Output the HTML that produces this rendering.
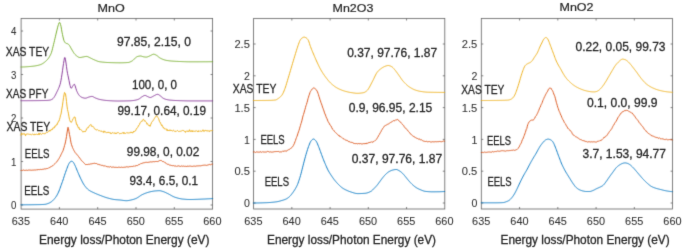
<!DOCTYPE html>
<html><head><meta charset="utf-8"><title>XAS/EELS</title>
<style>
html,body{margin:0;padding:0;background:#fff;}
body{width:685px;height:248px;overflow:hidden;}
svg{display:block;font-family:"Liberation Sans",sans-serif;}
</style></head><body>
<svg width="685" height="248" viewBox="0 0 685 248">
<defs><filter id="tf" x="0" y="0" width="685" height="248" filterUnits="userSpaceOnUse" color-interpolation-filters="sRGB"><feConvolveMatrix order="3" kernelMatrix="0.0100 0.0800 0.0100 0.0800 0.6400 0.0800 0.0100 0.0800 0.0100" edgeMode="none" preserveAlpha="false"/></filter><filter id="cf" x="0" y="0" width="685" height="248" filterUnits="userSpaceOnUse" color-interpolation-filters="sRGB"><feConvolveMatrix order="3" kernelMatrix="0.0169 0.0962 0.0169 0.0962 0.5476 0.0962 0.0169 0.0962 0.0169" edgeMode="none" preserveAlpha="false"/></filter></defs>
<rect width="685" height="248" fill="#fff"/>
<g filter="url(#cf)">
<rect x="21.1" y="18.5" width="191.5" height="190.6" fill="#fff" stroke="#606060" stroke-width="0.8"/>
<path d="M21.1 205.0h2.0M212.6 205.0h-2.0" stroke="#606060" stroke-width="0.8"/>
<path d="M21.1 161.5h2.0M212.6 161.5h-2.0" stroke="#606060" stroke-width="0.8"/>
<path d="M21.1 118.0h2.0M212.6 118.0h-2.0" stroke="#606060" stroke-width="0.8"/>
<path d="M21.1 74.5h2.0M212.6 74.5h-2.0" stroke="#606060" stroke-width="0.8"/>
<path d="M21.1 31.0h2.0M212.6 31.0h-2.0" stroke="#606060" stroke-width="0.8"/>
<path d="M59.4 209.1v-2.0M59.4 18.5v2.0" stroke="#606060" stroke-width="0.8"/>
<path d="M97.69999999999999 209.1v-2.0M97.69999999999999 18.5v2.0" stroke="#606060" stroke-width="0.8"/>
<path d="M136.0 209.1v-2.0M136.0 18.5v2.0" stroke="#606060" stroke-width="0.8"/>
<path d="M174.29999999999998 209.1v-2.0M174.29999999999998 18.5v2.0" stroke="#606060" stroke-width="0.8"/>
<rect x="253.6" y="18.5" width="191.20000000000002" height="190.5" fill="#fff" stroke="#606060" stroke-width="0.8"/>
<path d="M253.6 203.0h2.0M444.8 203.0h-2.0" stroke="#606060" stroke-width="0.8"/>
<path d="M253.6 171.2h2.0M444.8 171.2h-2.0" stroke="#606060" stroke-width="0.8"/>
<path d="M253.6 139.4h2.0M444.8 139.4h-2.0" stroke="#606060" stroke-width="0.8"/>
<path d="M253.6 107.6h2.0M444.8 107.6h-2.0" stroke="#606060" stroke-width="0.8"/>
<path d="M253.6 75.8h2.0M444.8 75.8h-2.0" stroke="#606060" stroke-width="0.8"/>
<path d="M253.6 44.0h2.0M444.8 44.0h-2.0" stroke="#606060" stroke-width="0.8"/>
<path d="M291.84 209.0v-2.0M291.84 18.5v2.0" stroke="#606060" stroke-width="0.8"/>
<path d="M330.08 209.0v-2.0M330.08 18.5v2.0" stroke="#606060" stroke-width="0.8"/>
<path d="M368.32 209.0v-2.0M368.32 18.5v2.0" stroke="#606060" stroke-width="0.8"/>
<path d="M406.56 209.0v-2.0M406.56 18.5v2.0" stroke="#606060" stroke-width="0.8"/>
<rect x="481.3" y="18.5" width="191.3" height="190.5" fill="#fff" stroke="#606060" stroke-width="0.8"/>
<path d="M481.3 203.0h2.0M672.6 203.0h-2.0" stroke="#606060" stroke-width="0.8"/>
<path d="M481.3 171.2h2.0M672.6 171.2h-2.0" stroke="#606060" stroke-width="0.8"/>
<path d="M481.3 139.4h2.0M672.6 139.4h-2.0" stroke="#606060" stroke-width="0.8"/>
<path d="M481.3 107.6h2.0M672.6 107.6h-2.0" stroke="#606060" stroke-width="0.8"/>
<path d="M481.3 75.8h2.0M672.6 75.8h-2.0" stroke="#606060" stroke-width="0.8"/>
<path d="M481.3 44.0h2.0M672.6 44.0h-2.0" stroke="#606060" stroke-width="0.8"/>
<path d="M519.5600000000001 209.0v-2.0M519.5600000000001 18.5v2.0" stroke="#606060" stroke-width="0.8"/>
<path d="M557.82 209.0v-2.0M557.82 18.5v2.0" stroke="#606060" stroke-width="0.8"/>
<path d="M596.08 209.0v-2.0M596.08 18.5v2.0" stroke="#606060" stroke-width="0.8"/>
<path d="M634.34 209.0v-2.0M634.34 18.5v2.0" stroke="#606060" stroke-width="0.8"/>
</g>
<g filter="url(#cf)">
<path d="M21.00 67.00 L21.50 67.00 L22.00 66.99 L22.50 66.98 L23.00 66.97 L23.50 66.95 L24.00 66.93 L24.50 66.91 L25.00 66.88 L25.50 66.85 L26.00 66.82 L26.50 66.78 L27.00 66.75 L27.50 66.71 L28.00 66.67 L28.50 66.63 L29.00 66.58 L29.50 66.54 L30.00 66.49 L30.50 66.44 L31.00 66.40 L31.50 66.35 L32.00 66.30 L32.50 66.25 L33.00 66.19 L33.50 66.13 L34.00 66.07 L34.50 66.00 L35.00 65.92 L35.50 65.84 L36.00 65.75 L36.50 65.66 L37.00 65.56 L37.50 65.45 L38.00 65.33 L38.50 65.21 L39.00 65.08 L39.50 64.94 L40.00 64.80 L40.50 64.63 L41.00 64.44 L41.50 64.21 L42.00 63.95 L42.50 63.66 L43.00 63.34 L43.50 63.00 L44.00 62.63 L44.50 62.25 L45.00 61.84 L45.50 61.41 L46.00 60.96 L46.50 60.49 L47.00 60.00 L47.50 59.46 L48.00 58.85 L48.50 58.18 L49.00 57.45 L49.50 56.63 L50.00 55.74 L50.50 54.77 L51.00 53.70 L51.50 52.36 L52.00 50.66 L52.50 48.72 L53.00 46.66 L53.50 44.60 L54.00 42.60 L54.50 40.53 L55.00 38.39 L55.50 36.23 L56.00 34.08 L56.50 32.00 L57.00 29.94 L57.50 27.84 L58.00 25.94 L58.50 24.41 L59.00 22.97 L59.50 22.30 L60.00 22.93 L60.50 24.36 L61.00 26.26 L61.50 29.23 L62.00 32.21 L62.50 34.58 L63.00 36.91 L63.50 39.03 L64.00 40.71 L64.50 41.76 L65.00 42.45 L65.50 42.97 L66.00 43.30 L66.50 43.47 L67.00 43.59 L67.50 43.72 L68.00 43.97 L68.50 44.37 L69.00 44.90 L69.50 45.50 L70.00 46.29 L70.50 47.27 L71.00 48.20 L71.50 49.04 L72.00 49.91 L72.50 50.77 L73.00 51.61 L73.50 52.41 L74.00 53.16 L74.50 53.83 L75.00 54.41 L75.50 54.89 L76.00 55.33 L76.50 55.76 L77.00 56.18 L77.50 56.56 L78.00 56.89 L78.50 57.17 L79.00 57.37 L79.50 57.48 L80.00 57.50 L80.50 57.46 L81.00 57.39 L81.50 57.30 L82.00 57.19 L82.50 57.09 L83.00 57.00 L83.50 56.91 L84.00 56.80 L84.50 56.68 L85.00 56.58 L85.50 56.49 L86.00 56.42 L86.50 56.40 L87.00 56.45 L87.50 56.59 L88.00 56.79 L88.50 57.03 L89.00 57.30 L89.50 57.56 L90.00 57.80 L90.50 58.03 L91.00 58.28 L91.50 58.53 L92.00 58.78 L92.50 59.03 L93.00 59.26 L93.50 59.47 L94.00 59.69 L94.50 59.91 L95.00 60.13 L95.50 60.35 L96.00 60.57 L96.50 60.78 L97.00 60.97 L97.50 61.16 L98.00 61.33 L98.50 61.48 L99.00 61.61 L99.50 61.72 L100.00 61.80 L100.50 61.87 L101.00 61.93 L101.50 61.99 L102.00 62.05 L102.50 62.10 L103.00 62.15 L103.50 62.20 L104.00 62.25 L104.50 62.29 L105.00 62.33 L105.50 62.37 L106.00 62.40 L106.50 62.44 L107.00 62.47 L107.50 62.49 L108.00 62.52 L108.50 62.54 L109.00 62.56 L109.50 62.58 L110.00 62.60 L110.50 62.62 L111.00 62.63 L111.50 62.65 L112.00 62.66 L112.50 62.68 L113.00 62.69 L113.50 62.70 L114.00 62.72 L114.50 62.73 L115.00 62.74 L115.50 62.75 L116.00 62.76 L116.50 62.77 L117.00 62.78 L117.50 62.78 L118.00 62.79 L118.50 62.79 L119.00 62.80 L119.50 62.80 L120.00 62.80 L120.50 62.80 L121.00 62.80 L121.50 62.79 L122.00 62.78 L122.50 62.77 L123.00 62.76 L123.50 62.74 L124.00 62.73 L124.50 62.71 L125.00 62.68 L125.50 62.66 L126.00 62.63 L126.50 62.60 L127.00 62.57 L127.50 62.54 L128.00 62.50 L128.50 62.44 L129.00 62.32 L129.50 62.17 L130.00 61.98 L130.50 61.76 L131.00 61.52 L131.50 61.27 L132.00 61.00 L132.50 60.67 L133.00 60.24 L133.50 59.75 L134.00 59.23 L134.50 58.74 L135.00 58.30 L135.50 57.88 L136.00 57.45 L136.50 57.04 L137.00 56.71 L137.50 56.50 L138.00 56.37 L138.50 56.25 L139.00 56.15 L139.50 56.07 L140.00 56.02 L140.50 56.00 L141.00 56.05 L141.50 56.17 L142.00 56.34 L142.50 56.52 L143.00 56.69 L143.50 56.80 L144.00 56.88 L144.50 56.95 L145.00 57.02 L145.50 57.07 L146.00 57.10 L146.50 57.09 L147.00 57.00 L147.50 56.86 L148.00 56.67 L148.50 56.46 L149.00 56.23 L149.50 56.01 L150.00 55.80 L150.50 55.57 L151.00 55.30 L151.50 55.00 L152.00 54.71 L152.50 54.47 L153.00 54.29 L153.50 54.20 L154.00 54.23 L154.50 54.35 L155.00 54.54 L155.50 54.78 L156.00 55.04 L156.50 55.30 L157.00 55.61 L157.50 56.01 L158.00 56.45 L158.50 56.90 L159.00 57.32 L159.50 57.66 L160.00 57.96 L160.50 58.25 L161.00 58.52 L161.50 58.76 L162.00 58.99 L162.50 59.20 L163.00 59.39 L163.50 59.58 L164.00 59.75 L164.50 59.91 L165.00 60.06 L165.50 60.19 L166.00 60.30 L166.50 60.40 L167.00 60.49 L167.50 60.57 L168.00 60.65 L168.50 60.72 L169.00 60.79 L169.50 60.85 L170.00 60.90 L170.50 60.95 L171.00 61.00 L171.50 61.04 L172.00 61.08 L172.50 61.12 L173.00 61.15 L173.50 61.18 L174.00 61.21 L174.50 61.24 L175.00 61.27 L175.50 61.30 L176.00 61.32 L176.50 61.35 L177.00 61.37 L177.50 61.39 L178.00 61.41 L178.50 61.44 L179.00 61.46 L179.50 61.48 L180.00 61.50 L180.50 61.53 L181.00 61.55 L181.50 61.57 L182.00 61.59 L182.50 61.61 L183.00 61.63 L183.50 61.65 L184.00 61.67 L184.50 61.69 L185.00 61.71 L185.50 61.72 L186.00 61.74 L186.50 61.75 L187.00 61.76 L187.50 61.77 L188.00 61.78 L188.50 61.79 L189.00 61.80 L189.50 61.80 L190.00 61.80 L190.50 61.80 L191.00 61.80 L191.50 61.80 L192.00 61.80 L192.50 61.80 L193.00 61.80 L193.50 61.80 L194.00 61.80 L194.50 61.80 L195.00 61.80 L195.50 61.80 L196.00 61.80 L196.50 61.80 L197.00 61.80 L197.50 61.80 L198.00 61.80 L198.50 61.79 L199.00 61.79 L199.50 61.79 L200.00 61.79 L200.50 61.79 L201.00 61.79 L201.50 61.79 L202.00 61.78 L202.50 61.78 L203.00 61.78 L203.50 61.78 L204.00 61.78 L204.50 61.77 L205.00 61.77 L205.50 61.77 L206.00 61.76 L206.50 61.76 L207.00 61.76 L207.50 61.75 L208.00 61.75 L208.50 61.74 L209.00 61.74 L209.50 61.73 L210.00 61.73 L210.50 61.72 L211.00 61.72 L211.50 61.71 L212.00 61.71 L212.50 61.70" fill="none" stroke="#7bb033" stroke-width="1.0" stroke-linejoin="round" stroke-linecap="round"/>
<path d="M21.00 100.70 L21.50 100.70 L22.00 100.70 L22.50 100.70 L23.00 100.70 L23.50 100.70 L24.00 100.70 L24.50 100.70 L25.00 100.70 L25.50 100.69 L26.00 100.69 L26.50 100.69 L27.00 100.69 L27.50 100.69 L28.00 100.69 L28.50 100.68 L29.00 100.68 L29.50 100.68 L30.00 100.68 L30.50 100.67 L31.00 100.67 L31.50 100.67 L32.00 100.66 L32.50 100.66 L33.00 100.66 L33.50 100.65 L34.00 100.65 L34.50 100.64 L35.00 100.64 L35.50 100.63 L36.00 100.63 L36.50 100.62 L37.00 100.62 L37.50 100.61 L38.00 100.61 L38.50 100.60 L39.00 100.59 L39.50 100.59 L40.00 100.58 L40.50 100.57 L41.00 100.57 L41.50 100.56 L42.00 100.55 L42.50 100.54 L43.00 100.53 L43.50 100.53 L44.00 100.52 L44.50 100.51 L45.00 100.50 L45.50 100.49 L46.00 100.47 L46.50 100.45 L47.00 100.42 L47.50 100.38 L48.00 100.34 L48.50 100.29 L49.00 100.23 L49.50 100.17 L50.00 100.10 L50.50 99.99 L51.00 99.82 L51.50 99.59 L52.00 99.31 L52.50 99.00 L53.00 98.58 L53.50 98.01 L54.00 97.33 L54.50 96.60 L55.00 95.77 L55.50 94.81 L56.00 93.78 L56.50 92.72 L57.00 91.70 L57.50 90.69 L58.00 89.65 L58.50 88.54 L59.00 87.35 L59.50 86.09 L60.00 84.63 L60.50 82.79 L61.00 80.28 L61.50 77.29 L62.00 74.13 L62.50 70.76 L63.00 67.02 L63.50 63.59 L64.00 60.49 L64.50 57.79 L65.00 57.47 L65.50 59.81 L66.00 63.00 L66.50 66.73 L67.00 70.50 L67.50 73.28 L68.00 75.70 L68.50 77.99 L69.00 80.40 L69.50 83.01 L70.00 85.31 L70.50 86.94 L71.00 88.16 L71.50 88.15 L72.00 87.41 L72.50 86.47 L73.00 85.72 L73.50 84.93 L74.00 84.32 L74.50 84.33 L75.00 85.47 L75.50 87.00 L76.00 88.75 L76.50 90.40 L77.00 91.56 L77.50 92.62 L78.00 93.58 L78.50 94.42 L79.00 95.14 L79.50 95.72 L80.00 96.17 L80.50 96.55 L81.00 96.89 L81.50 97.19 L82.00 97.45 L82.50 97.65 L83.00 97.80 L83.50 97.92 L84.00 98.04 L84.50 98.13 L85.00 98.18 L85.50 98.20 L86.00 98.13 L86.50 97.99 L87.00 97.80 L87.50 97.58 L88.00 97.36 L88.50 97.16 L89.00 97.00 L89.50 96.87 L90.00 96.73 L90.50 96.61 L91.00 96.50 L91.50 96.43 L92.00 96.40 L92.50 96.48 L93.00 96.67 L93.50 96.95 L94.00 97.26 L94.50 97.56 L95.00 97.80 L95.50 98.00 L96.00 98.20 L96.50 98.40 L97.00 98.59 L97.50 98.77 L98.00 98.95 L98.50 99.11 L99.00 99.26 L99.50 99.39 L100.00 99.50 L100.50 99.60 L101.00 99.70 L101.50 99.79 L102.00 99.88 L102.50 99.96 L103.00 100.04 L103.50 100.12 L104.00 100.19 L104.50 100.26 L105.00 100.32 L105.50 100.38 L106.00 100.43 L106.50 100.48 L107.00 100.53 L107.50 100.57 L108.00 100.60 L108.50 100.63 L109.00 100.66 L109.50 100.69 L110.00 100.72 L110.50 100.75 L111.00 100.78 L111.50 100.81 L112.00 100.83 L112.50 100.86 L113.00 100.88 L113.50 100.90 L114.00 100.92 L114.50 100.94 L115.00 100.95 L115.50 100.97 L116.00 100.98 L116.50 100.99 L117.00 100.99 L117.50 101.00 L118.00 101.00 L118.50 101.00 L119.00 101.00 L119.50 101.00 L120.00 100.99 L120.50 100.99 L121.00 100.99 L121.50 100.98 L122.00 100.98 L122.50 100.97 L123.00 100.96 L123.50 100.96 L124.00 100.95 L124.50 100.94 L125.00 100.93 L125.50 100.92 L126.00 100.91 L126.50 100.90 L127.00 100.89 L127.50 100.87 L128.00 100.86 L128.50 100.85 L129.00 100.83 L129.50 100.82 L130.00 100.80 L130.50 100.78 L131.00 100.75 L131.50 100.70 L132.00 100.65 L132.50 100.60 L133.00 100.54 L133.50 100.47 L134.00 100.40 L134.50 100.32 L135.00 100.24 L135.50 100.14 L136.00 100.03 L136.50 99.90 L137.00 99.76 L137.50 99.61 L138.00 99.44 L138.50 99.26 L139.00 99.01 L139.50 98.67 L140.00 98.29 L140.50 97.89 L141.00 97.49 L141.50 97.11 L142.00 96.80 L142.50 96.50 L143.00 96.19 L143.50 95.89 L144.00 95.64 L144.50 95.47 L145.00 95.40 L145.50 95.48 L146.00 95.69 L146.50 95.97 L147.00 96.26 L147.50 96.50 L148.00 96.72 L148.50 96.97 L149.00 97.20 L149.50 97.39 L150.00 97.49 L150.50 97.48 L151.00 97.36 L151.50 97.17 L152.00 96.91 L152.50 96.63 L153.00 96.33 L153.50 96.05 L154.00 95.80 L154.50 95.56 L155.00 95.28 L155.50 95.00 L156.00 94.73 L156.50 94.51 L157.00 94.36 L157.50 94.30 L158.00 94.38 L158.50 94.59 L159.00 94.90 L159.50 95.26 L160.00 95.64 L160.50 96.00 L161.00 96.38 L161.50 96.83 L162.00 97.30 L162.50 97.74 L163.00 98.12 L163.50 98.40 L164.00 98.64 L164.50 98.86 L165.00 99.05 L165.50 99.22 L166.00 99.37 L166.50 99.50 L167.00 99.61 L167.50 99.72 L168.00 99.82 L168.50 99.90 L169.00 99.98 L169.50 100.05 L170.00 100.10 L170.50 100.15 L171.00 100.19 L171.50 100.23 L172.00 100.27 L172.50 100.31 L173.00 100.35 L173.50 100.38 L174.00 100.41 L174.50 100.44 L175.00 100.47 L175.50 100.49 L176.00 100.52 L176.50 100.54 L177.00 100.56 L177.50 100.58 L178.00 100.60 L178.50 100.62 L179.00 100.64 L179.50 100.66 L180.00 100.67 L180.50 100.69 L181.00 100.71 L181.50 100.73 L182.00 100.74 L182.50 100.76 L183.00 100.78 L183.50 100.79 L184.00 100.81 L184.50 100.82 L185.00 100.83 L185.50 100.84 L186.00 100.85 L186.50 100.86 L187.00 100.87 L187.50 100.88 L188.00 100.89 L188.50 100.89 L189.00 100.90 L189.50 100.90 L190.00 100.90 L190.50 100.90 L191.00 100.90 L191.50 100.90 L192.00 100.90 L192.50 100.90 L193.00 100.90 L193.50 100.90 L194.00 100.90 L194.50 100.90 L195.00 100.90 L195.50 100.90 L196.00 100.90 L196.50 100.90 L197.00 100.90 L197.50 100.90 L198.00 100.90 L198.50 100.90 L199.00 100.90 L199.50 100.90 L200.00 100.90 L200.50 100.90 L201.00 100.90 L201.50 100.90 L202.00 100.90 L202.50 100.90 L203.00 100.90 L203.50 100.90 L204.00 100.90 L204.50 100.90 L205.00 100.90 L205.50 100.90 L206.00 100.90 L206.50 100.90 L207.00 100.90 L207.50 100.90 L208.00 100.90 L208.50 100.90 L209.00 100.90 L209.50 100.90 L210.00 100.90 L210.50 100.90 L211.00 100.90 L211.50 100.90 L212.00 100.90 L212.50 100.90" fill="none" stroke="#8a3c9a" stroke-width="1.0" stroke-linejoin="round" stroke-linecap="round"/>
<path d="M21.00 135.22 L21.50 133.15 L22.00 134.49 L22.50 134.04 L23.00 134.10 L23.50 134.20 L24.00 133.39 L24.50 134.19 L25.00 133.91 L25.50 135.79 L26.00 134.40 L26.50 134.13 L27.00 134.17 L27.50 133.99 L28.00 133.81 L28.50 134.11 L29.00 134.50 L29.50 134.18 L30.00 134.71 L30.50 134.19 L31.00 134.29 L31.50 134.97 L32.00 134.52 L32.50 134.04 L33.00 134.18 L33.50 134.50 L34.00 135.13 L34.50 134.13 L35.00 134.14 L35.50 134.70 L36.00 133.84 L36.50 134.11 L37.00 134.63 L37.50 134.49 L38.00 134.26 L38.50 134.52 L39.00 132.94 L39.50 134.67 L40.00 133.77 L40.50 133.43 L41.00 134.26 L41.50 134.39 L42.00 133.78 L42.50 133.39 L43.00 133.77 L43.50 133.60 L44.00 134.11 L44.50 133.65 L45.00 133.24 L45.50 133.48 L46.00 132.72 L46.50 132.22 L47.00 132.71 L47.50 132.51 L48.00 131.91 L48.50 131.40 L49.00 131.58 L49.50 130.05 L50.00 131.17 L50.50 130.75 L51.00 129.44 L51.50 129.85 L52.00 129.02 L52.50 129.41 L53.00 127.75 L53.50 127.83 L54.00 128.10 L54.50 127.81 L55.00 125.79 L55.50 125.97 L56.00 125.74 L56.50 124.66 L57.00 124.95 L57.50 122.93 L58.00 122.77 L58.50 121.18 L59.00 121.20 L59.50 119.31 L60.00 117.72 L60.50 115.14 L61.00 114.16 L61.50 110.92 L62.00 108.01 L62.50 105.11 L63.00 101.33 L63.50 97.75 L64.00 94.88 L64.50 92.46 L65.00 93.14 L65.50 93.90 L66.00 97.23 L66.50 101.47 L67.00 106.10 L67.50 109.49 L68.00 111.53 L68.50 113.85 L69.00 116.87 L69.50 119.44 L70.00 120.84 L70.50 121.98 L71.00 122.46 L71.50 122.31 L72.00 121.06 L72.50 120.35 L73.00 118.64 L73.50 118.24 L74.00 117.31 L74.50 117.05 L75.00 117.02 L75.50 119.82 L76.00 121.76 L76.50 124.37 L77.00 124.11 L77.50 126.00 L78.00 126.83 L78.50 128.13 L79.00 127.51 L79.50 129.58 L80.00 129.94 L80.50 129.25 L81.00 129.75 L81.50 130.16 L82.00 130.83 L82.50 131.35 L83.00 132.19 L83.50 131.32 L84.00 131.83 L84.50 131.55 L85.00 132.02 L85.50 131.10 L86.00 130.77 L86.50 128.97 L87.00 128.65 L87.50 127.70 L88.00 128.18 L88.50 127.26 L89.00 126.23 L89.50 125.59 L90.00 125.53 L90.50 124.67 L91.00 124.49 L91.50 125.41 L92.00 126.86 L92.50 126.30 L93.00 126.75 L93.50 126.99 L94.00 127.46 L94.50 128.82 L95.00 129.41 L95.50 129.36 L96.00 129.77 L96.50 129.91 L97.00 130.13 L97.50 129.58 L98.00 130.23 L98.50 130.65 L99.00 130.39 L99.50 130.66 L100.00 130.63 L100.50 130.96 L101.00 131.61 L101.50 131.14 L102.00 131.36 L102.50 131.89 L103.00 131.90 L103.50 132.46 L104.00 130.84 L104.50 132.24 L105.00 131.71 L105.50 132.06 L106.00 132.44 L106.50 132.62 L107.00 132.66 L107.50 132.32 L108.00 133.02 L108.50 132.23 L109.00 132.34 L109.50 132.82 L110.00 132.26 L110.50 133.54 L111.00 133.08 L111.50 133.65 L112.00 132.71 L112.50 132.60 L113.00 132.89 L113.50 133.19 L114.00 132.64 L114.50 133.12 L115.00 132.98 L115.50 133.75 L116.00 132.76 L116.50 133.56 L117.00 132.83 L117.50 132.71 L118.00 132.84 L118.50 132.64 L119.00 133.26 L119.50 133.66 L120.00 133.27 L120.50 133.48 L121.00 133.93 L121.50 133.31 L122.00 133.28 L122.50 133.06 L123.00 132.45 L123.50 133.50 L124.00 132.36 L124.50 133.43 L125.00 133.12 L125.50 133.61 L126.00 133.06 L126.50 132.70 L127.00 133.21 L127.50 132.77 L128.00 132.91 L128.50 132.99 L129.00 132.88 L129.50 132.82 L130.00 132.50 L130.50 132.75 L131.00 131.84 L131.50 132.67 L132.00 132.10 L132.50 133.00 L133.00 132.89 L133.50 131.23 L134.00 131.93 L134.50 131.54 L135.00 130.74 L135.50 130.89 L136.00 129.78 L136.50 128.50 L137.00 128.44 L137.50 127.66 L138.00 126.92 L138.50 125.48 L139.00 125.45 L139.50 124.62 L140.00 122.92 L140.50 122.36 L141.00 121.96 L141.50 121.15 L142.00 121.59 L142.50 120.37 L143.00 119.43 L143.50 119.35 L144.00 119.79 L144.50 121.25 L145.00 120.72 L145.50 121.49 L146.00 122.23 L146.50 122.53 L147.00 124.21 L147.50 123.61 L148.00 124.82 L148.50 125.11 L149.00 125.74 L149.50 125.15 L150.00 126.38 L150.50 124.90 L151.00 124.02 L151.50 122.52 L152.00 121.67 L152.50 121.43 L153.00 120.76 L153.50 119.82 L154.00 119.23 L154.50 118.32 L155.00 117.33 L155.50 117.01 L156.00 116.33 L156.50 115.69 L157.00 116.16 L157.50 117.08 L158.00 117.60 L158.50 118.34 L159.00 119.89 L159.50 121.66 L160.00 121.98 L160.50 123.17 L161.00 124.07 L161.50 125.52 L162.00 124.91 L162.50 126.58 L163.00 127.54 L163.50 127.15 L164.00 128.67 L164.50 128.68 L165.00 128.59 L165.50 129.25 L166.00 128.71 L166.50 129.34 L167.00 130.61 L167.50 129.57 L168.00 130.97 L168.50 130.26 L169.00 130.89 L169.50 130.60 L170.00 129.69 L170.50 130.54 L171.00 130.96 L171.50 130.42 L172.00 130.37 L172.50 131.16 L173.00 130.72 L173.50 130.25 L174.00 130.72 L174.50 131.42 L175.00 130.82 L175.50 131.46 L176.00 131.74 L176.50 131.07 L177.00 130.55 L177.50 130.48 L178.00 131.06 L178.50 131.47 L179.00 131.20 L179.50 131.33 L180.00 130.89 L180.50 131.22 L181.00 130.88 L181.50 130.95 L182.00 130.51 L182.50 130.39 L183.00 130.88 L183.50 130.60 L184.00 130.67 L184.50 131.40 L185.00 131.05 L185.50 132.41 L186.00 131.52 L186.50 130.81 L187.00 131.45 L187.50 131.26 L188.00 130.79 L188.50 131.59 L189.00 130.74 L189.50 129.71 L190.00 131.44 L190.50 130.81 L191.00 131.75 L191.50 130.79 L192.00 130.54 L192.50 131.77 L193.00 130.58 L193.50 131.16 L194.00 131.71 L194.50 131.11 L195.00 131.01 L195.50 131.09 L196.00 131.42 L196.50 130.67 L197.00 131.30 L197.50 131.28 L198.00 132.06 L198.50 130.86 L199.00 130.59 L199.50 131.32 L200.00 130.81 L200.50 131.11 L201.00 131.03 L201.50 131.49 L202.00 130.66 L202.50 130.90 L203.00 129.78 L203.50 130.52 L204.00 131.60 L204.50 130.60 L205.00 130.58 L205.50 130.33 L206.00 131.13 L206.50 130.94 L207.00 130.31 L207.50 131.14 L208.00 130.94 L208.50 131.15 L209.00 130.51 L209.50 131.57 L210.00 130.96 L210.50 130.71 L211.00 130.51 L211.50 130.62 L212.00 131.10 L212.50 130.58" fill="none" stroke="#edb120" stroke-width="1.0" stroke-linejoin="round" stroke-linecap="round"/>
<path d="M21.00 170.46 L21.50 170.39 L22.00 170.50 L22.50 170.42 L23.00 170.28 L23.50 169.99 L24.00 170.32 L24.50 170.38 L25.00 170.28 L25.50 170.32 L26.00 170.16 L26.50 170.16 L27.00 170.06 L27.50 170.39 L28.00 170.19 L28.50 170.07 L29.00 169.93 L29.50 170.08 L30.00 170.30 L30.50 170.13 L31.00 169.93 L31.50 170.23 L32.00 170.20 L32.50 170.11 L33.00 170.05 L33.50 170.08 L34.00 169.96 L34.50 169.97 L35.00 169.70 L35.50 170.01 L36.00 169.79 L36.50 170.03 L37.00 169.39 L37.50 169.77 L38.00 169.78 L38.50 169.55 L39.00 169.63 L39.50 169.65 L40.00 169.59 L40.50 169.38 L41.00 169.41 L41.50 169.54 L42.00 169.53 L42.50 169.30 L43.00 169.25 L43.50 169.21 L44.00 169.27 L44.50 168.89 L45.00 168.77 L45.50 168.91 L46.00 168.63 L46.50 168.61 L47.00 168.57 L47.50 168.47 L48.00 168.06 L48.50 168.14 L49.00 167.55 L49.50 167.68 L50.00 167.13 L50.50 166.92 L51.00 166.93 L51.50 166.46 L52.00 166.08 L52.50 165.78 L53.00 165.52 L53.50 165.02 L54.00 164.57 L54.50 164.26 L55.00 163.50 L55.50 163.01 L56.00 162.46 L56.50 162.13 L57.00 161.49 L57.50 160.88 L58.00 159.99 L58.50 159.24 L59.00 158.59 L59.50 157.55 L60.00 156.82 L60.50 155.86 L61.00 154.65 L61.50 153.71 L62.00 152.64 L62.50 151.81 L63.00 150.74 L63.50 149.04 L64.00 147.61 L64.50 145.62 L65.00 144.10 L65.50 141.91 L66.00 139.32 L66.50 136.55 L67.00 132.96 L67.50 129.97 L68.00 127.26 L68.50 128.47 L69.00 131.69 L69.50 134.53 L70.00 136.94 L70.50 139.82 L71.00 142.83 L71.50 144.72 L72.00 146.03 L72.50 147.45 L73.00 148.60 L73.50 149.58 L74.00 150.62 L74.50 151.38 L75.00 152.34 L75.50 152.96 L76.00 153.48 L76.50 154.14 L77.00 154.77 L77.50 155.28 L78.00 155.60 L78.50 156.51 L79.00 157.01 L79.50 157.93 L80.00 158.43 L80.50 159.22 L81.00 159.85 L81.50 160.64 L82.00 160.97 L82.50 161.43 L83.00 162.04 L83.50 162.46 L84.00 163.09 L84.50 163.54 L85.00 163.97 L85.50 164.58 L86.00 164.43 L86.50 164.50 L87.00 164.44 L87.50 164.54 L88.00 164.22 L88.50 164.25 L89.00 164.28 L89.50 164.29 L90.00 164.11 L90.50 163.95 L91.00 163.77 L91.50 163.85 L92.00 163.88 L92.50 163.61 L93.00 163.48 L93.50 163.43 L94.00 163.16 L94.50 163.26 L95.00 163.33 L95.50 163.51 L96.00 163.58 L96.50 163.52 L97.00 163.99 L97.50 164.22 L98.00 164.09 L98.50 164.35 L99.00 164.48 L99.50 164.70 L100.00 164.51 L100.50 165.12 L101.00 164.95 L101.50 165.35 L102.00 165.32 L102.50 165.38 L103.00 165.56 L103.50 165.84 L104.00 165.70 L104.50 165.89 L105.00 165.99 L105.50 165.90 L106.00 166.46 L106.50 166.46 L107.00 166.47 L107.50 166.75 L108.00 166.53 L108.50 166.76 L109.00 167.11 L109.50 167.07 L110.00 166.66 L110.50 166.54 L111.00 166.93 L111.50 167.27 L112.00 167.06 L112.50 167.12 L113.00 167.26 L113.50 167.06 L114.00 167.24 L114.50 167.34 L115.00 167.31 L115.50 167.31 L116.00 167.17 L116.50 167.35 L117.00 167.22 L117.50 167.48 L118.00 167.68 L118.50 167.19 L119.00 166.97 L119.50 167.24 L120.00 167.35 L120.50 167.45 L121.00 167.44 L121.50 167.14 L122.00 167.12 L122.50 167.40 L123.00 167.02 L123.50 167.32 L124.00 167.09 L124.50 167.21 L125.00 167.17 L125.50 167.15 L126.00 167.12 L126.50 166.81 L127.00 166.97 L127.50 166.90 L128.00 166.91 L128.50 167.01 L129.00 166.75 L129.50 166.65 L130.00 166.61 L130.50 166.63 L131.00 166.74 L131.50 166.46 L132.00 166.70 L132.50 166.51 L133.00 166.37 L133.50 166.12 L134.00 166.25 L134.50 166.19 L135.00 165.68 L135.50 165.98 L136.00 165.90 L136.50 165.55 L137.00 165.42 L137.50 165.55 L138.00 165.20 L138.50 164.71 L139.00 164.66 L139.50 164.45 L140.00 164.26 L140.50 163.71 L141.00 163.94 L141.50 163.50 L142.00 163.39 L142.50 163.15 L143.00 163.13 L143.50 162.81 L144.00 162.61 L144.50 162.68 L145.00 162.71 L145.50 162.35 L146.00 162.53 L146.50 162.31 L147.00 162.14 L147.50 162.40 L148.00 162.01 L148.50 162.25 L149.00 161.99 L149.50 162.10 L150.00 161.81 L150.50 161.85 L151.00 162.11 L151.50 161.96 L152.00 161.91 L152.50 161.82 L153.00 161.93 L153.50 161.62 L154.00 161.63 L154.50 161.73 L155.00 161.57 L155.50 161.53 L156.00 161.55 L156.50 161.46 L157.00 161.36 L157.50 161.55 L158.00 161.33 L158.50 161.21 L159.00 160.86 L159.50 160.63 L160.00 160.36 L160.50 160.45 L161.00 160.22 L161.50 160.60 L162.00 161.06 L162.50 161.48 L163.00 161.64 L163.50 161.62 L164.00 162.09 L164.50 162.17 L165.00 162.69 L165.50 162.82 L166.00 163.23 L166.50 163.75 L167.00 163.77 L167.50 164.25 L168.00 164.18 L168.50 164.34 L169.00 164.80 L169.50 165.05 L170.00 164.91 L170.50 165.19 L171.00 165.14 L171.50 165.47 L172.00 165.75 L172.50 165.69 L173.00 165.67 L173.50 165.60 L174.00 165.92 L174.50 166.03 L175.00 166.04 L175.50 166.03 L176.00 165.84 L176.50 166.33 L177.00 166.08 L177.50 166.09 L178.00 166.25 L178.50 165.83 L179.00 166.17 L179.50 166.17 L180.00 166.26 L180.50 166.41 L181.00 166.29 L181.50 165.95 L182.00 166.18 L182.50 166.27 L183.00 166.27 L183.50 166.06 L184.00 166.01 L184.50 166.35 L185.00 166.32 L185.50 166.27 L186.00 166.02 L186.50 166.55 L187.00 165.85 L187.50 166.24 L188.00 166.61 L188.50 166.27 L189.00 166.33 L189.50 166.12 L190.00 166.50 L190.50 166.10 L191.00 166.33 L191.50 166.30 L192.00 166.11 L192.50 166.39 L193.00 166.03 L193.50 166.11 L194.00 166.19 L194.50 166.11 L195.00 166.21 L195.50 166.25 L196.00 166.03 L196.50 165.96 L197.00 165.93 L197.50 165.91 L198.00 166.05 L198.50 165.86 L199.00 165.91 L199.50 165.79 L200.00 165.64 L200.50 165.85 L201.00 165.52 L201.50 165.63 L202.00 165.81 L202.50 165.38 L203.00 165.49 L203.50 165.22 L204.00 165.33 L204.50 165.13 L205.00 165.25 L205.50 165.16 L206.00 165.20 L206.50 165.35 L207.00 165.09 L207.50 165.08 L208.00 164.90 L208.50 164.80 L209.00 164.64 L209.50 164.42 L210.00 164.62 L210.50 164.77 L211.00 164.52 L211.50 164.29 L212.00 164.53 L212.50 164.14" fill="none" stroke="#db5a22" stroke-width="1.0" stroke-linejoin="round" stroke-linecap="round"/>
<path d="M21.00 204.80 L21.50 204.80 L22.00 204.80 L22.50 204.80 L23.00 204.80 L23.50 204.80 L24.00 204.79 L24.50 204.79 L25.00 204.79 L25.50 204.79 L26.00 204.79 L26.50 204.78 L27.00 204.78 L27.50 204.78 L28.00 204.77 L28.50 204.77 L29.00 204.76 L29.50 204.76 L30.00 204.75 L30.50 204.75 L31.00 204.74 L31.50 204.74 L32.00 204.73 L32.50 204.73 L33.00 204.72 L33.50 204.71 L34.00 204.70 L34.50 204.70 L35.00 204.69 L35.50 204.68 L36.00 204.67 L36.50 204.67 L37.00 204.66 L37.50 204.65 L38.00 204.64 L38.50 204.63 L39.00 204.62 L39.50 204.61 L40.00 204.60 L40.50 204.59 L41.00 204.57 L41.50 204.56 L42.00 204.53 L42.50 204.51 L43.00 204.48 L43.50 204.45 L44.00 204.41 L44.50 204.37 L45.00 204.32 L45.50 204.26 L46.00 204.16 L46.50 204.03 L47.00 203.87 L47.50 203.69 L48.00 203.50 L48.50 203.30 L49.00 203.09 L49.50 202.86 L50.00 202.60 L50.50 202.31 L51.00 202.01 L51.50 201.67 L52.00 201.30 L52.50 200.86 L53.00 200.37 L53.50 199.85 L54.00 199.30 L54.50 198.73 L55.00 198.12 L55.50 197.47 L56.00 196.76 L56.50 196.00 L57.00 195.16 L57.50 194.22 L58.00 193.21 L58.50 192.13 L59.00 191.00 L59.50 189.76 L60.00 188.40 L60.50 186.97 L61.00 185.54 L61.50 184.15 L62.00 182.80 L62.50 181.43 L63.00 180.00 L63.50 178.46 L64.00 176.86 L64.50 175.30 L65.00 173.83 L65.50 172.40 L66.00 171.01 L66.50 169.67 L67.00 168.32 L67.50 166.94 L68.00 165.63 L68.50 164.48 L69.00 163.55 L69.50 162.72 L70.00 162.06 L70.50 161.67 L71.00 161.39 L71.50 161.22 L72.00 161.26 L72.50 161.56 L73.00 162.01 L73.50 162.56 L74.00 163.40 L74.50 164.39 L75.00 165.41 L75.50 166.51 L76.00 167.70 L76.50 168.93 L77.00 170.17 L77.50 171.37 L78.00 172.52 L78.50 173.68 L79.00 174.84 L79.50 175.98 L80.00 177.09 L80.50 178.17 L81.00 179.20 L81.50 180.20 L82.00 181.20 L82.50 182.17 L83.00 183.10 L83.50 183.97 L84.00 184.77 L84.50 185.47 L85.00 186.14 L85.50 186.78 L86.00 187.39 L86.50 187.96 L87.00 188.50 L87.50 189.00 L88.00 189.45 L88.50 189.85 L89.00 190.21 L89.50 190.54 L90.00 190.85 L90.50 191.13 L91.00 191.40 L91.50 191.65 L92.00 191.89 L92.50 192.12 L93.00 192.35 L93.50 192.58 L94.00 192.81 L94.50 193.04 L95.00 193.26 L95.50 193.48 L96.00 193.70 L96.50 193.91 L97.00 194.12 L97.50 194.32 L98.00 194.52 L98.50 194.72 L99.00 194.91 L99.50 195.11 L100.00 195.30 L100.50 195.49 L101.00 195.69 L101.50 195.88 L102.00 196.07 L102.50 196.27 L103.00 196.46 L103.50 196.64 L104.00 196.83 L104.50 197.01 L105.00 197.18 L105.50 197.34 L106.00 197.50 L106.50 197.66 L107.00 197.80 L107.50 197.94 L108.00 198.08 L108.50 198.21 L109.00 198.35 L109.50 198.48 L110.00 198.61 L110.50 198.74 L111.00 198.86 L111.50 198.98 L112.00 199.09 L112.50 199.20 L113.00 199.29 L113.50 199.38 L114.00 199.47 L114.50 199.54 L115.00 199.60 L115.50 199.65 L116.00 199.70 L116.50 199.74 L117.00 199.78 L117.50 199.81 L118.00 199.85 L118.50 199.88 L119.00 199.92 L119.50 199.96 L120.00 200.00 L120.50 200.05 L121.00 200.11 L121.50 200.17 L122.00 200.24 L122.50 200.31 L123.00 200.38 L123.50 200.45 L124.00 200.52 L124.50 200.57 L125.00 200.62 L125.50 200.66 L126.00 200.69 L126.50 200.70 L127.00 200.69 L127.50 200.65 L128.00 200.60 L128.50 200.52 L129.00 200.43 L129.50 200.32 L130.00 200.22 L130.50 200.11 L131.00 200.00 L131.50 199.89 L132.00 199.77 L132.50 199.65 L133.00 199.51 L133.50 199.36 L134.00 199.21 L134.50 199.04 L135.00 198.86 L135.50 198.68 L136.00 198.48 L136.50 198.24 L137.00 197.97 L137.50 197.67 L138.00 197.35 L138.50 197.02 L139.00 196.67 L139.50 196.33 L140.00 195.98 L140.50 195.65 L141.00 195.33 L141.50 195.02 L142.00 194.75 L142.50 194.50 L143.00 194.27 L143.50 194.05 L144.00 193.83 L144.50 193.62 L145.00 193.42 L145.50 193.22 L146.00 193.04 L146.50 192.87 L147.00 192.70 L147.50 192.54 L148.00 192.39 L148.50 192.24 L149.00 192.10 L149.50 191.96 L150.00 191.83 L150.50 191.71 L151.00 191.60 L151.50 191.50 L152.00 191.41 L152.50 191.31 L153.00 191.23 L153.50 191.14 L154.00 191.07 L154.50 191.00 L155.00 190.94 L155.50 190.90 L156.00 190.86 L156.50 190.83 L157.00 190.79 L157.50 190.76 L158.00 190.73 L158.50 190.71 L159.00 190.70 L159.50 190.70 L160.00 190.74 L160.50 190.81 L161.00 190.92 L161.50 191.05 L162.00 191.20 L162.50 191.35 L163.00 191.50 L163.50 191.66 L164.00 191.84 L164.50 192.05 L165.00 192.27 L165.50 192.50 L166.00 192.73 L166.50 192.97 L167.00 193.21 L167.50 193.44 L168.00 193.69 L168.50 193.95 L169.00 194.22 L169.50 194.50 L170.00 194.79 L170.50 195.07 L171.00 195.36 L171.50 195.64 L172.00 195.92 L172.50 196.18 L173.00 196.44 L173.50 196.67 L174.00 196.89 L174.50 197.09 L175.00 197.27 L175.50 197.42 L176.00 197.58 L176.50 197.73 L177.00 197.88 L177.50 198.02 L178.00 198.15 L178.50 198.28 L179.00 198.41 L179.50 198.53 L180.00 198.64 L180.50 198.74 L181.00 198.83 L181.50 198.91 L182.00 198.99 L182.50 199.05 L183.00 199.10 L183.50 199.14 L184.00 199.19 L184.50 199.23 L185.00 199.27 L185.50 199.31 L186.00 199.35 L186.50 199.38 L187.00 199.41 L187.50 199.44 L188.00 199.46 L188.50 199.48 L189.00 199.49 L189.50 199.50 L190.00 199.50 L190.50 199.50 L191.00 199.49 L191.50 199.49 L192.00 199.48 L192.50 199.47 L193.00 199.46 L193.50 199.44 L194.00 199.43 L194.50 199.41 L195.00 199.40 L195.50 199.38 L196.00 199.36 L196.50 199.34 L197.00 199.32 L197.50 199.30 L198.00 199.28 L198.50 199.26 L199.00 199.24 L199.50 199.22 L200.00 199.20 L200.50 199.18 L201.00 199.16 L201.50 199.14 L202.00 199.12 L202.50 199.10 L203.00 199.08 L203.50 199.06 L204.00 199.04 L204.50 199.02 L205.00 198.99 L205.50 198.97 L206.00 198.95 L206.50 198.92 L207.00 198.90 L207.50 198.87 L208.00 198.85 L208.50 198.82 L209.00 198.79 L209.50 198.77 L210.00 198.74 L210.50 198.71 L211.00 198.69 L211.50 198.66 L212.00 198.63 L212.50 198.60" fill="none" stroke="#0f7cc4" stroke-width="1.0" stroke-linejoin="round" stroke-linecap="round"/>
<path d="M253.50 100.50 L254.00 100.50 L254.50 100.50 L255.00 100.50 L255.50 100.50 L256.00 100.50 L256.50 100.50 L257.00 100.49 L257.50 100.49 L258.00 100.49 L258.50 100.49 L259.00 100.49 L259.50 100.48 L260.00 100.48 L260.50 100.48 L261.00 100.47 L261.50 100.47 L262.00 100.46 L262.50 100.46 L263.00 100.46 L263.50 100.45 L264.00 100.45 L264.50 100.44 L265.00 100.44 L265.50 100.43 L266.00 100.43 L266.50 100.42 L267.00 100.41 L267.50 100.41 L268.00 100.40 L268.50 100.39 L269.00 100.38 L269.50 100.37 L270.00 100.36 L270.50 100.34 L271.00 100.32 L271.50 100.30 L272.00 100.27 L272.50 100.25 L273.00 100.21 L273.50 100.18 L274.00 100.14 L274.50 100.09 L275.00 100.04 L275.50 99.99 L276.00 99.85 L276.50 99.63 L277.00 99.34 L277.50 99.01 L278.00 98.65 L278.50 98.30 L279.00 97.95 L279.50 97.58 L280.00 97.17 L280.50 96.73 L281.00 96.23 L281.50 95.67 L282.00 95.03 L282.50 94.22 L283.00 93.25 L283.50 92.16 L284.00 90.98 L284.50 89.75 L285.00 88.45 L285.50 87.00 L286.00 85.44 L286.50 83.79 L287.00 82.10 L287.50 80.40 L288.00 78.73 L288.50 77.08 L289.00 75.41 L289.50 73.73 L290.00 72.03 L290.50 70.33 L291.00 68.64 L291.50 66.95 L292.00 65.26 L292.50 63.57 L293.00 61.88 L293.50 60.20 L294.00 58.53 L294.50 56.87 L295.00 55.21 L295.50 53.55 L296.00 51.91 L296.50 50.29 L297.00 48.72 L297.50 47.18 L298.00 45.67 L298.50 44.24 L299.00 42.89 L299.50 41.57 L300.00 40.44 L300.50 39.66 L301.00 39.00 L301.50 38.45 L302.00 38.03 L302.50 37.72 L303.00 37.45 L303.50 37.23 L304.00 37.11 L304.50 37.13 L305.00 37.27 L305.50 37.50 L306.00 37.78 L306.50 38.10 L307.00 38.54 L307.50 39.11 L308.00 39.79 L308.50 40.68 L309.00 42.02 L309.50 43.62 L310.00 45.23 L310.50 46.64 L311.00 47.96 L311.50 49.25 L312.00 50.50 L312.50 51.72 L313.00 52.90 L313.50 54.07 L314.00 55.23 L314.50 56.40 L315.00 57.57 L315.50 58.73 L316.00 59.87 L316.50 60.99 L317.00 62.09 L317.50 63.15 L318.00 64.22 L318.50 65.27 L319.00 66.31 L319.50 67.32 L320.00 68.29 L320.50 69.23 L321.00 70.13 L321.50 70.98 L322.00 71.80 L322.50 72.60 L323.00 73.37 L323.50 74.13 L324.00 74.86 L324.50 75.57 L325.00 76.26 L325.50 76.94 L326.00 77.60 L326.50 78.25 L327.00 78.89 L327.50 79.53 L328.00 80.15 L328.50 80.75 L329.00 81.33 L329.50 81.89 L330.00 82.42 L330.50 82.92 L331.00 83.38 L331.50 83.84 L332.00 84.28 L332.50 84.72 L333.00 85.14 L333.50 85.54 L334.00 85.93 L334.50 86.31 L335.00 86.67 L335.50 87.02 L336.00 87.34 L336.50 87.65 L337.00 87.94 L337.50 88.20 L338.00 88.46 L338.50 88.71 L339.00 88.95 L339.50 89.18 L340.00 89.41 L340.50 89.62 L341.00 89.83 L341.50 90.03 L342.00 90.22 L342.50 90.41 L343.00 90.58 L343.50 90.75 L344.00 90.91 L344.50 91.07 L345.00 91.22 L345.50 91.36 L346.00 91.49 L346.50 91.62 L347.00 91.74 L347.50 91.86 L348.00 91.98 L348.50 92.09 L349.00 92.19 L349.50 92.29 L350.00 92.38 L350.50 92.47 L351.00 92.55 L351.50 92.63 L352.00 92.71 L352.50 92.79 L353.00 92.87 L353.50 92.95 L354.00 93.02 L354.50 93.09 L355.00 93.15 L355.50 93.21 L356.00 93.25 L356.50 93.28 L357.00 93.30 L357.50 93.30 L358.00 93.29 L358.50 93.27 L359.00 93.25 L359.50 93.21 L360.00 93.17 L360.50 93.12 L361.00 93.06 L361.50 93.00 L362.00 92.93 L362.50 92.85 L363.00 92.77 L363.50 92.68 L364.00 92.54 L364.50 92.34 L365.00 92.07 L365.50 91.76 L366.00 91.40 L366.50 91.00 L367.00 90.56 L367.50 90.10 L368.00 89.49 L368.50 88.72 L369.00 87.87 L369.50 87.00 L370.00 86.11 L370.50 85.16 L371.00 84.18 L371.50 83.20 L372.00 82.24 L372.50 81.28 L373.00 80.30 L373.50 79.30 L374.00 78.24 L374.50 77.15 L375.00 76.10 L375.50 75.10 L376.00 74.12 L376.50 73.26 L377.00 72.51 L377.50 71.84 L378.00 71.24 L378.50 70.70 L379.00 70.23 L379.50 69.80 L380.00 69.41 L380.50 69.02 L381.00 68.64 L381.50 68.27 L382.00 67.93 L382.50 67.62 L383.00 67.32 L383.50 67.05 L384.00 66.79 L384.50 66.56 L385.00 66.34 L385.50 66.13 L386.00 65.96 L386.50 65.82 L387.00 65.68 L387.50 65.57 L388.00 65.51 L388.50 65.52 L389.00 65.60 L389.50 65.74 L390.00 65.90 L390.50 66.07 L391.00 66.29 L391.50 66.57 L392.00 66.89 L392.50 67.25 L393.00 67.71 L393.50 68.25 L394.00 68.83 L394.50 69.44 L395.00 70.04 L395.50 70.67 L396.00 71.33 L396.50 72.01 L397.00 72.69 L397.50 73.37 L398.00 74.06 L398.50 74.76 L399.00 75.47 L399.50 76.17 L400.00 76.89 L400.50 77.63 L401.00 78.38 L401.50 79.11 L402.00 79.81 L402.50 80.45 L403.00 81.05 L403.50 81.62 L404.00 82.16 L404.50 82.69 L405.00 83.20 L405.50 83.70 L406.00 84.19 L406.50 84.67 L407.00 85.13 L407.50 85.58 L408.00 85.99 L408.50 86.37 L409.00 86.73 L409.50 87.06 L410.00 87.38 L410.50 87.68 L411.00 87.97 L411.50 88.26 L412.00 88.53 L412.50 88.81 L413.00 89.07 L413.50 89.32 L414.00 89.54 L414.50 89.74 L415.00 89.92 L415.50 90.10 L416.00 90.27 L416.50 90.43 L417.00 90.59 L417.50 90.73 L418.00 90.87 L418.50 90.99 L419.00 91.11 L419.50 91.21 L420.00 91.30 L420.50 91.38 L421.00 91.46 L421.50 91.54 L422.00 91.62 L422.50 91.69 L423.00 91.76 L423.50 91.83 L424.00 91.89 L424.50 91.95 L425.00 92.00 L425.50 92.05 L426.00 92.09 L426.50 92.13 L427.00 92.16 L427.50 92.18 L428.00 92.20 L428.50 92.21 L429.00 92.22 L429.50 92.23 L430.00 92.25 L430.50 92.26 L431.00 92.27 L431.50 92.28 L432.00 92.28 L432.50 92.29 L433.00 92.30 L433.50 92.31 L434.00 92.32 L434.50 92.33 L435.00 92.33 L435.50 92.34 L436.00 92.35 L436.50 92.35 L437.00 92.36 L437.50 92.36 L438.00 92.37 L438.50 92.37 L439.00 92.38 L439.50 92.38 L440.00 92.39 L440.50 92.39 L441.00 92.39 L441.50 92.39 L442.00 92.40 L442.50 92.40 L443.00 92.40 L443.50 92.40 L444.00 92.40 L444.50 92.40" fill="none" stroke="#edb120" stroke-width="1.0" stroke-linejoin="round" stroke-linecap="round"/>
<path d="M253.50 151.98 L254.00 151.86 L254.50 151.91 L255.00 152.05 L255.50 152.50 L256.00 152.05 L256.50 151.89 L257.00 151.97 L257.50 152.04 L258.00 151.74 L258.50 152.11 L259.00 152.22 L259.50 152.14 L260.00 152.19 L260.50 151.81 L261.00 151.72 L261.50 152.31 L262.00 152.27 L262.50 151.73 L263.00 152.08 L263.50 152.03 L264.00 152.13 L264.50 152.06 L265.00 151.91 L265.50 152.04 L266.00 152.02 L266.50 151.97 L267.00 151.60 L267.50 151.37 L268.00 151.80 L268.50 151.62 L269.00 151.99 L269.50 152.07 L270.00 151.97 L270.50 151.83 L271.00 151.91 L271.50 152.12 L272.00 151.73 L272.50 152.05 L273.00 151.99 L273.50 151.89 L274.00 152.12 L274.50 151.67 L275.00 151.99 L275.50 151.60 L276.00 151.62 L276.50 151.54 L277.00 151.82 L277.50 151.53 L278.00 151.70 L278.50 151.44 L279.00 151.85 L279.50 151.98 L280.00 151.62 L280.50 151.87 L281.00 151.62 L281.50 151.90 L282.00 151.44 L282.50 151.06 L283.00 151.62 L283.50 151.24 L284.00 151.00 L284.50 151.01 L285.00 150.75 L285.50 150.97 L286.00 150.72 L286.50 151.14 L287.00 150.83 L287.50 150.17 L288.00 149.95 L288.50 149.86 L289.00 149.28 L289.50 149.32 L290.00 148.99 L290.50 148.48 L291.00 148.10 L291.50 147.83 L292.00 147.48 L292.50 146.90 L293.00 145.94 L293.50 145.37 L294.00 144.14 L294.50 143.22 L295.00 141.64 L295.50 140.58 L296.00 138.79 L296.50 137.50 L297.00 136.31 L297.50 135.01 L298.00 133.15 L298.50 131.83 L299.00 130.41 L299.50 128.82 L300.00 126.93 L300.50 125.39 L301.00 123.57 L301.50 122.13 L302.00 120.17 L302.50 117.94 L303.00 115.89 L303.50 114.49 L304.00 112.89 L304.50 110.95 L305.00 109.39 L305.50 107.44 L306.00 105.60 L306.50 104.37 L307.00 102.56 L307.50 100.91 L308.00 98.66 L308.50 97.20 L309.00 95.40 L309.50 94.10 L310.00 92.44 L310.50 91.37 L311.00 90.46 L311.50 90.09 L312.00 89.31 L312.50 88.66 L313.00 88.20 L313.50 87.94 L314.00 88.41 L314.50 87.97 L315.00 88.53 L315.50 89.26 L316.00 89.80 L316.50 90.07 L317.00 90.94 L317.50 91.87 L318.00 93.30 L318.50 94.69 L319.00 96.57 L319.50 97.94 L320.00 99.87 L320.50 100.91 L321.00 102.83 L321.50 103.87 L322.00 105.27 L322.50 107.07 L323.00 108.20 L323.50 109.86 L324.00 110.97 L324.50 112.91 L325.00 113.95 L325.50 115.06 L326.00 116.61 L326.50 117.95 L327.00 118.74 L327.50 120.07 L328.00 121.41 L328.50 122.19 L329.00 123.00 L329.50 123.85 L330.00 125.00 L330.50 125.45 L331.00 125.98 L331.50 127.26 L332.00 127.96 L332.50 129.27 L333.00 129.64 L333.50 130.07 L334.00 130.65 L334.50 131.56 L335.00 131.85 L335.50 132.41 L336.00 132.99 L336.50 133.48 L337.00 133.91 L337.50 134.32 L338.00 134.95 L338.50 135.41 L339.00 135.11 L339.50 136.32 L340.00 136.19 L340.50 136.78 L341.00 136.76 L341.50 137.34 L342.00 137.68 L342.50 138.02 L343.00 138.52 L343.50 138.82 L344.00 138.81 L344.50 139.30 L345.00 139.75 L345.50 140.01 L346.00 140.06 L346.50 140.32 L347.00 140.59 L347.50 140.63 L348.00 140.82 L348.50 141.61 L349.00 141.42 L349.50 141.72 L350.00 141.73 L350.50 142.32 L351.00 142.57 L351.50 142.33 L352.00 142.64 L352.50 142.54 L353.00 143.20 L353.50 143.19 L354.00 142.99 L354.50 143.54 L355.00 143.49 L355.50 143.61 L356.00 143.68 L356.50 143.54 L357.00 143.60 L357.50 143.84 L358.00 143.70 L358.50 143.52 L359.00 144.12 L359.50 143.67 L360.00 143.60 L360.50 143.57 L361.00 143.85 L361.50 143.91 L362.00 143.76 L362.50 143.89 L363.00 143.41 L363.50 143.64 L364.00 143.60 L364.50 143.66 L365.00 143.70 L365.50 143.12 L366.00 144.07 L366.50 143.17 L367.00 143.31 L367.50 143.29 L368.00 143.19 L368.50 142.95 L369.00 142.21 L369.50 142.47 L370.00 142.74 L370.50 142.31 L371.00 142.18 L371.50 141.80 L372.00 142.39 L372.50 142.11 L373.00 141.67 L373.50 141.62 L374.00 141.36 L374.50 140.85 L375.00 140.65 L375.50 140.32 L376.00 139.84 L376.50 139.36 L377.00 138.45 L377.50 137.61 L378.00 136.91 L378.50 135.78 L379.00 134.75 L379.50 134.35 L380.00 133.17 L380.50 132.38 L381.00 131.61 L381.50 130.35 L382.00 129.76 L382.50 128.84 L383.00 127.98 L383.50 127.48 L384.00 126.72 L384.50 125.95 L385.00 125.91 L385.50 125.39 L386.00 125.40 L386.50 124.95 L387.00 124.49 L387.50 124.31 L388.00 124.27 L388.50 123.93 L389.00 123.49 L389.50 123.22 L390.00 122.80 L390.50 122.56 L391.00 122.43 L391.50 122.02 L392.00 121.82 L392.50 121.26 L393.00 120.88 L393.50 120.61 L394.00 120.63 L394.50 120.77 L395.00 120.53 L395.50 119.88 L396.00 119.57 L396.50 119.88 L397.00 119.71 L397.50 119.35 L398.00 120.05 L398.50 120.26 L399.00 120.98 L399.50 121.29 L400.00 121.86 L400.50 122.25 L401.00 122.53 L401.50 123.24 L402.00 123.72 L402.50 124.60 L403.00 124.82 L403.50 125.32 L404.00 126.37 L404.50 127.07 L405.00 127.73 L405.50 128.27 L406.00 128.36 L406.50 129.12 L407.00 129.74 L407.50 130.43 L408.00 130.58 L408.50 131.57 L409.00 132.19 L409.50 132.49 L410.00 133.22 L410.50 133.94 L411.00 134.21 L411.50 134.90 L412.00 135.36 L412.50 135.68 L413.00 136.08 L413.50 136.30 L414.00 136.95 L414.50 136.91 L415.00 137.14 L415.50 137.69 L416.00 137.66 L416.50 138.14 L417.00 138.50 L417.50 138.53 L418.00 138.75 L418.50 139.12 L419.00 139.29 L419.50 139.03 L420.00 139.29 L420.50 140.03 L421.00 140.06 L421.50 139.78 L422.00 140.14 L422.50 140.62 L423.00 140.60 L423.50 141.06 L424.00 141.13 L424.50 141.32 L425.00 141.07 L425.50 141.49 L426.00 141.81 L426.50 141.32 L427.00 141.79 L427.50 141.77 L428.00 141.75 L428.50 141.65 L429.00 141.46 L429.50 141.55 L430.00 141.91 L430.50 141.97 L431.00 142.04 L431.50 141.99 L432.00 141.99 L432.50 141.72 L433.00 141.56 L433.50 141.84 L434.00 141.89 L434.50 141.80 L435.00 141.47 L435.50 141.66 L436.00 141.46 L436.50 141.77 L437.00 141.51 L437.50 141.67 L438.00 141.75 L438.50 141.68 L439.00 141.90 L439.50 141.38 L440.00 141.13 L440.50 141.72 L441.00 141.77 L441.50 141.73 L442.00 141.46 L442.50 141.46 L443.00 141.32 L443.50 140.98 L444.00 141.06 L444.50 141.21" fill="none" stroke="#db5a22" stroke-width="1.0" stroke-linejoin="round" stroke-linecap="round"/>
<path d="M253.50 203.00 L254.00 203.00 L254.50 203.00 L255.00 202.99 L255.50 202.99 L256.00 202.98 L256.50 202.98 L257.00 202.97 L257.50 202.96 L258.00 202.95 L258.50 202.94 L259.00 202.93 L259.50 202.92 L260.00 202.90 L260.50 202.89 L261.00 202.87 L261.50 202.86 L262.00 202.84 L262.50 202.83 L263.00 202.81 L263.50 202.79 L264.00 202.77 L264.50 202.76 L265.00 202.74 L265.50 202.72 L266.00 202.70 L266.50 202.68 L267.00 202.66 L267.50 202.63 L268.00 202.61 L268.50 202.58 L269.00 202.55 L269.50 202.51 L270.00 202.48 L270.50 202.44 L271.00 202.40 L271.50 202.35 L272.00 202.31 L272.50 202.26 L273.00 202.21 L273.50 202.16 L274.00 202.11 L274.50 202.05 L275.00 201.99 L275.50 201.93 L276.00 201.87 L276.50 201.80 L277.00 201.73 L277.50 201.64 L278.00 201.53 L278.50 201.42 L279.00 201.29 L279.50 201.16 L280.00 201.03 L280.50 200.89 L281.00 200.74 L281.50 200.60 L282.00 200.46 L282.50 200.31 L283.00 200.16 L283.50 200.01 L284.00 199.84 L284.50 199.67 L285.00 199.48 L285.50 199.27 L286.00 199.05 L286.50 198.80 L287.00 198.51 L287.50 198.19 L288.00 197.83 L288.50 197.45 L289.00 197.03 L289.50 196.60 L290.00 196.12 L290.50 195.58 L291.00 194.98 L291.50 194.35 L292.00 193.70 L292.50 193.03 L293.00 192.35 L293.50 191.64 L294.00 190.90 L294.50 190.12 L295.00 189.30 L295.50 188.46 L296.00 187.59 L296.50 186.67 L297.00 185.67 L297.50 184.57 L298.00 183.26 L298.50 181.80 L299.00 180.30 L299.50 178.79 L300.00 177.21 L300.50 175.55 L301.00 173.74 L301.50 171.78 L302.00 169.79 L302.50 167.82 L303.00 165.83 L303.50 163.85 L304.00 161.92 L304.50 160.02 L305.00 158.13 L305.50 156.30 L306.00 154.52 L306.50 152.83 L307.00 151.17 L307.50 149.57 L308.00 148.04 L308.50 146.63 L309.00 145.32 L309.50 144.02 L310.00 142.80 L310.50 141.76 L311.00 141.00 L311.50 140.41 L312.00 139.87 L312.50 139.42 L313.00 139.11 L313.50 139.00 L314.00 139.11 L314.50 139.42 L315.00 139.88 L315.50 140.42 L316.00 141.00 L316.50 141.74 L317.00 142.74 L317.50 143.90 L318.00 145.13 L318.50 146.34 L319.00 147.60 L319.50 148.93 L320.00 150.31 L320.50 151.69 L321.00 153.04 L321.50 154.41 L322.00 155.79 L322.50 157.16 L323.00 158.48 L323.50 159.76 L324.00 161.00 L324.50 162.22 L325.00 163.40 L325.50 164.57 L326.00 165.73 L326.50 166.88 L327.00 168.02 L327.50 169.10 L328.00 170.11 L328.50 171.03 L329.00 171.90 L329.50 172.73 L330.00 173.52 L330.50 174.29 L331.00 175.05 L331.50 175.80 L332.00 176.55 L332.50 177.28 L333.00 177.99 L333.50 178.69 L334.00 179.36 L334.50 180.00 L335.00 180.62 L335.50 181.22 L336.00 181.81 L336.50 182.38 L337.00 182.94 L337.50 183.48 L338.00 184.00 L338.50 184.50 L339.00 184.99 L339.50 185.48 L340.00 185.95 L340.50 186.41 L341.00 186.85 L341.50 187.27 L342.00 187.66 L342.50 188.03 L343.00 188.37 L343.50 188.68 L344.00 188.97 L344.50 189.24 L345.00 189.50 L345.50 189.75 L346.00 189.99 L346.50 190.22 L347.00 190.46 L347.50 190.68 L348.00 190.89 L348.50 191.10 L349.00 191.30 L349.50 191.49 L350.00 191.67 L350.50 191.84 L351.00 192.00 L351.50 192.16 L352.00 192.32 L352.50 192.48 L353.00 192.64 L353.50 192.80 L354.00 192.95 L354.50 193.10 L355.00 193.23 L355.50 193.34 L356.00 193.44 L356.50 193.52 L357.00 193.57 L357.50 193.60 L358.00 193.60 L358.50 193.60 L359.00 193.59 L359.50 193.58 L360.00 193.57 L360.50 193.55 L361.00 193.53 L361.50 193.51 L362.00 193.49 L362.50 193.46 L363.00 193.43 L363.50 193.40 L364.00 193.37 L364.50 193.34 L365.00 193.30 L365.50 193.25 L366.00 193.17 L366.50 193.07 L367.00 192.95 L367.50 192.80 L368.00 192.63 L368.50 192.45 L369.00 192.25 L369.50 192.03 L370.00 191.80 L370.50 191.55 L371.00 191.30 L371.50 190.98 L372.00 190.56 L372.50 190.08 L373.00 189.55 L373.50 189.02 L374.00 188.50 L374.50 188.00 L375.00 187.50 L375.50 186.98 L376.00 186.45 L376.50 185.89 L377.00 185.32 L377.50 184.71 L378.00 184.05 L378.50 183.37 L379.00 182.68 L379.50 181.98 L380.00 181.30 L380.50 180.63 L381.00 179.95 L381.50 179.27 L382.00 178.60 L382.50 177.95 L383.00 177.32 L383.50 176.72 L384.00 176.13 L384.50 175.55 L385.00 175.00 L385.50 174.48 L386.00 174.00 L386.50 173.55 L387.00 173.10 L387.50 172.68 L388.00 172.29 L388.50 171.93 L389.00 171.61 L389.50 171.34 L390.00 171.07 L390.50 170.83 L391.00 170.60 L391.50 170.40 L392.00 170.24 L392.50 170.10 L393.00 169.98 L393.50 169.87 L394.00 169.77 L394.50 169.67 L395.00 169.59 L395.50 169.54 L396.00 169.51 L396.50 169.51 L397.00 169.61 L397.50 169.80 L398.00 170.05 L398.50 170.33 L399.00 170.63 L399.50 170.91 L400.00 171.23 L400.50 171.59 L401.00 171.97 L401.50 172.39 L402.00 172.83 L402.50 173.29 L403.00 173.80 L403.50 174.35 L404.00 174.94 L404.50 175.54 L405.00 176.14 L405.50 176.74 L406.00 177.35 L406.50 177.98 L407.00 178.61 L407.50 179.24 L408.00 179.85 L408.50 180.43 L409.00 181.01 L409.50 181.58 L410.00 182.13 L410.50 182.68 L411.00 183.20 L411.50 183.70 L412.00 184.19 L412.50 184.66 L413.00 185.12 L413.50 185.57 L414.00 185.98 L414.50 186.38 L415.00 186.75 L415.50 187.11 L416.00 187.45 L416.50 187.77 L417.00 188.07 L417.50 188.35 L418.00 188.62 L418.50 188.87 L419.00 189.10 L419.50 189.32 L420.00 189.54 L420.50 189.74 L421.00 189.95 L421.50 190.16 L422.00 190.38 L422.50 190.58 L423.00 190.77 L423.50 190.95 L424.00 191.10 L424.50 191.22 L425.00 191.30 L425.50 191.36 L426.00 191.42 L426.50 191.47 L427.00 191.53 L427.50 191.57 L428.00 191.62 L428.50 191.66 L429.00 191.69 L429.50 191.73 L430.00 191.75 L430.50 191.77 L431.00 191.79 L431.50 191.80 L432.00 191.80 L432.50 191.80 L433.00 191.80 L433.50 191.80 L434.00 191.80 L434.50 191.80 L435.00 191.80 L435.50 191.79 L436.00 191.79 L436.50 191.79 L437.00 191.78 L437.50 191.77 L438.00 191.77 L438.50 191.76 L439.00 191.75 L439.50 191.74 L440.00 191.72 L440.50 191.71 L441.00 191.69 L441.50 191.67 L442.00 191.65 L442.50 191.62 L443.00 191.60 L443.50 191.57 L444.00 191.53 L444.50 191.50" fill="none" stroke="#0f7cc4" stroke-width="1.0" stroke-linejoin="round" stroke-linecap="round"/>
<path d="M481.30 100.50 L481.80 100.50 L482.30 100.50 L482.80 100.50 L483.30 100.50 L483.80 100.50 L484.30 100.50 L484.80 100.49 L485.30 100.49 L485.80 100.49 L486.30 100.49 L486.80 100.49 L487.30 100.48 L487.80 100.48 L488.30 100.48 L488.80 100.47 L489.30 100.47 L489.80 100.47 L490.30 100.46 L490.80 100.46 L491.30 100.45 L491.80 100.45 L492.30 100.45 L492.80 100.44 L493.30 100.44 L493.80 100.43 L494.30 100.43 L494.80 100.42 L495.30 100.42 L495.80 100.41 L496.30 100.41 L496.80 100.40 L497.30 100.40 L497.80 100.39 L498.30 100.39 L498.80 100.38 L499.30 100.37 L499.80 100.37 L500.30 100.36 L500.80 100.35 L501.30 100.34 L501.80 100.33 L502.30 100.32 L502.80 100.31 L503.30 100.30 L503.80 100.28 L504.30 100.27 L504.80 100.25 L505.30 100.23 L505.80 100.21 L506.30 100.19 L506.80 100.17 L507.30 100.14 L507.80 100.11 L508.30 100.07 L508.80 99.99 L509.30 99.86 L509.80 99.69 L510.30 99.50 L510.80 99.29 L511.30 99.05 L511.80 98.74 L512.30 98.36 L512.80 97.91 L513.30 97.39 L513.80 96.71 L514.30 95.86 L514.80 94.90 L515.30 93.86 L515.80 92.64 L516.30 91.30 L516.80 89.92 L517.30 88.46 L517.80 86.91 L518.30 85.32 L518.80 83.69 L519.30 82.01 L519.80 80.31 L520.30 78.63 L520.80 76.93 L521.30 75.26 L521.80 73.70 L522.30 72.20 L522.80 70.78 L523.30 69.45 L523.80 68.21 L524.30 67.06 L524.80 66.17 L525.30 65.45 L525.80 64.90 L526.30 64.50 L526.80 64.17 L527.30 63.88 L527.80 63.61 L528.30 63.35 L528.80 63.12 L529.30 62.91 L529.80 62.69 L530.30 62.42 L530.80 62.08 L531.30 61.64 L531.80 61.12 L532.30 60.54 L532.80 59.89 L533.30 59.10 L533.80 58.25 L534.30 57.44 L534.80 56.70 L535.30 55.98 L535.80 55.25 L536.30 54.50 L536.80 53.70 L537.30 52.81 L537.80 51.79 L538.30 50.66 L538.80 49.46 L539.30 48.25 L539.80 47.08 L540.30 45.99 L540.80 44.98 L541.30 44.00 L541.80 43.00 L542.30 41.92 L542.80 40.84 L543.30 39.94 L543.80 39.14 L544.30 38.48 L544.80 38.05 L545.30 37.70 L545.80 37.51 L546.30 37.60 L546.80 37.95 L547.30 38.40 L547.80 39.14 L548.30 40.10 L548.80 41.20 L549.30 42.49 L549.80 43.85 L550.30 45.20 L550.80 46.51 L551.30 47.84 L551.80 49.19 L552.30 50.53 L552.80 51.87 L553.30 53.20 L553.80 54.54 L554.30 55.91 L554.80 57.28 L555.30 58.62 L555.80 59.89 L556.30 61.08 L556.80 62.15 L557.30 63.15 L557.80 64.09 L558.30 65.00 L558.80 65.87 L559.30 66.70 L559.80 67.52 L560.30 68.38 L560.80 69.27 L561.30 70.19 L561.80 71.11 L562.30 72.00 L562.80 72.88 L563.30 73.75 L563.80 74.59 L564.30 75.40 L564.80 76.14 L565.30 76.86 L565.80 77.55 L566.30 78.21 L566.80 78.83 L567.30 79.41 L567.80 79.96 L568.30 80.48 L568.80 80.97 L569.30 81.45 L569.80 81.92 L570.30 82.39 L570.80 82.85 L571.30 83.31 L571.80 83.74 L572.30 84.16 L572.80 84.55 L573.30 84.92 L573.80 85.28 L574.30 85.62 L574.80 85.95 L575.30 86.26 L575.80 86.57 L576.30 86.87 L576.80 87.16 L577.30 87.44 L577.80 87.70 L578.30 87.95 L578.80 88.18 L579.30 88.41 L579.80 88.63 L580.30 88.84 L580.80 89.04 L581.30 89.24 L581.80 89.44 L582.30 89.63 L582.80 89.83 L583.30 90.01 L583.80 90.18 L584.30 90.34 L584.80 90.49 L585.30 90.62 L585.80 90.75 L586.30 90.87 L586.80 90.99 L587.30 91.10 L587.80 91.20 L588.30 91.30 L588.80 91.40 L589.30 91.49 L589.80 91.58 L590.30 91.67 L590.80 91.74 L591.30 91.79 L591.80 91.82 L592.30 91.84 L592.80 91.87 L593.30 91.88 L593.80 91.90 L594.30 91.90 L594.80 91.87 L595.30 91.79 L595.80 91.68 L596.30 91.55 L596.80 91.40 L597.30 91.18 L597.80 90.91 L598.30 90.60 L598.80 90.25 L599.30 89.85 L599.80 89.40 L600.30 88.92 L600.80 88.41 L601.30 87.88 L601.80 87.30 L602.30 86.67 L602.80 86.02 L603.30 85.34 L603.80 84.63 L604.30 83.89 L604.80 83.12 L605.30 82.33 L605.80 81.52 L606.30 80.71 L606.80 79.87 L607.30 79.00 L607.80 78.14 L608.30 77.27 L608.80 76.41 L609.30 75.56 L609.80 74.70 L610.30 73.84 L610.80 72.99 L611.30 72.13 L611.80 71.28 L612.30 70.44 L612.80 69.59 L613.30 68.74 L613.80 67.88 L614.30 67.06 L614.80 66.29 L615.30 65.58 L615.80 64.93 L616.30 64.31 L616.80 63.72 L617.30 63.17 L617.80 62.66 L618.30 62.17 L618.80 61.69 L619.30 61.22 L619.80 60.74 L620.30 60.30 L620.80 59.93 L621.30 59.58 L621.80 59.27 L622.30 59.11 L622.80 59.12 L623.30 59.18 L623.80 59.28 L624.30 59.40 L624.80 59.54 L625.30 59.71 L625.80 59.96 L626.30 60.28 L626.80 60.64 L627.30 61.02 L627.80 61.43 L628.30 61.89 L628.80 62.40 L629.30 62.94 L629.80 63.50 L630.30 64.07 L630.80 64.65 L631.30 65.26 L631.80 65.89 L632.30 66.54 L632.80 67.19 L633.30 67.84 L633.80 68.48 L634.30 69.13 L634.80 69.77 L635.30 70.41 L635.80 71.07 L636.30 71.73 L636.80 72.41 L637.30 73.11 L637.80 73.82 L638.30 74.54 L638.80 75.24 L639.30 75.93 L639.80 76.60 L640.30 77.26 L640.80 77.91 L641.30 78.55 L641.80 79.17 L642.30 79.77 L642.80 80.35 L643.30 80.92 L643.80 81.48 L644.30 82.03 L644.80 82.54 L645.30 83.03 L645.80 83.47 L646.30 83.90 L646.80 84.31 L647.30 84.70 L647.80 85.07 L648.30 85.42 L648.80 85.76 L649.30 86.08 L649.80 86.38 L650.30 86.67 L650.80 86.94 L651.30 87.21 L651.80 87.46 L652.30 87.71 L652.80 87.94 L653.30 88.17 L653.80 88.39 L654.30 88.60 L654.80 88.81 L655.30 89.01 L655.80 89.21 L656.30 89.39 L656.80 89.57 L657.30 89.74 L657.80 89.89 L658.30 90.04 L658.80 90.19 L659.30 90.32 L659.80 90.46 L660.30 90.58 L660.80 90.70 L661.30 90.81 L661.80 90.92 L662.30 91.02 L662.80 91.12 L663.30 91.22 L663.80 91.31 L664.30 91.40 L664.80 91.49 L665.30 91.57 L665.80 91.64 L666.30 91.71 L666.80 91.78 L667.30 91.84 L667.80 91.89 L668.30 91.95 L668.80 92.00 L669.30 92.05 L669.80 92.10 L670.30 92.15 L670.80 92.19 L671.30 92.23 L671.80 92.26 L672.30 92.29" fill="none" stroke="#edb120" stroke-width="1.0" stroke-linejoin="round" stroke-linecap="round"/>
<path d="M481.30 152.38 L481.80 152.90 L482.30 152.12 L482.80 152.34 L483.30 152.66 L483.80 152.25 L484.30 152.11 L484.80 152.04 L485.30 152.15 L485.80 152.61 L486.30 152.34 L486.80 152.33 L487.30 152.07 L487.80 152.34 L488.30 152.15 L488.80 151.89 L489.30 151.96 L489.80 152.07 L490.30 152.24 L490.80 151.94 L491.30 152.02 L491.80 152.31 L492.30 151.65 L492.80 151.51 L493.30 151.95 L493.80 151.78 L494.30 151.62 L494.80 151.65 L495.30 151.47 L495.80 151.60 L496.30 151.37 L496.80 151.57 L497.30 151.09 L497.80 151.12 L498.30 151.28 L498.80 151.10 L499.30 151.32 L499.80 151.11 L500.30 150.97 L500.80 151.09 L501.30 150.89 L501.80 150.63 L502.30 150.69 L502.80 150.73 L503.30 150.77 L503.80 150.86 L504.30 151.01 L504.80 150.89 L505.30 151.13 L505.80 150.99 L506.30 150.63 L506.80 151.01 L507.30 150.87 L507.80 150.47 L508.30 150.61 L508.80 150.74 L509.30 150.52 L509.80 150.65 L510.30 150.47 L510.80 150.51 L511.30 150.25 L511.80 150.38 L512.30 150.19 L512.80 150.39 L513.30 149.84 L513.80 150.25 L514.30 150.40 L514.80 150.21 L515.30 150.02 L515.80 150.07 L516.30 149.68 L516.80 149.56 L517.30 149.28 L517.80 148.73 L518.30 148.29 L518.80 147.19 L519.30 146.81 L519.80 145.34 L520.30 144.54 L520.80 143.70 L521.30 142.88 L521.80 141.30 L522.30 139.75 L522.80 139.14 L523.30 137.93 L523.80 136.57 L524.30 135.35 L524.80 133.96 L525.30 132.49 L525.80 131.06 L526.30 129.17 L526.80 128.51 L527.30 126.26 L527.80 124.53 L528.30 123.41 L528.80 122.23 L529.30 122.01 L529.80 121.25 L530.30 120.61 L530.80 120.37 L531.30 120.17 L531.80 120.10 L532.30 120.25 L532.80 119.86 L533.30 120.17 L533.80 119.35 L534.30 118.68 L534.80 118.14 L535.30 116.68 L535.80 116.13 L536.30 115.63 L536.80 114.58 L537.30 113.61 L537.80 112.70 L538.30 111.41 L538.80 110.36 L539.30 108.90 L539.80 107.58 L540.30 107.06 L540.80 105.39 L541.30 104.25 L541.80 103.52 L542.30 102.25 L542.80 100.72 L543.30 99.56 L543.80 98.51 L544.30 97.18 L544.80 96.40 L545.30 95.25 L545.80 94.23 L546.30 93.38 L546.80 92.43 L547.30 91.80 L547.80 90.92 L548.30 89.42 L548.80 89.30 L549.30 88.39 L549.80 87.95 L550.30 88.19 L550.80 87.97 L551.30 88.65 L551.80 89.83 L552.30 90.33 L552.80 91.23 L553.30 92.59 L553.80 94.00 L554.30 95.18 L554.80 96.28 L555.30 98.20 L555.80 100.09 L556.30 102.27 L556.80 103.80 L557.30 105.58 L557.80 107.39 L558.30 108.65 L558.80 110.22 L559.30 111.51 L559.80 112.40 L560.30 113.78 L560.80 115.06 L561.30 115.85 L561.80 117.38 L562.30 118.45 L562.80 119.54 L563.30 120.12 L563.80 121.24 L564.30 122.42 L564.80 123.13 L565.30 123.62 L565.80 124.66 L566.30 125.74 L566.80 126.23 L567.30 127.13 L567.80 128.37 L568.30 128.51 L568.80 129.13 L569.30 129.47 L569.80 130.02 L570.30 130.97 L570.80 131.15 L571.30 131.55 L571.80 132.52 L572.30 133.72 L572.80 134.52 L573.30 134.69 L573.80 135.45 L574.30 135.56 L574.80 136.10 L575.30 136.49 L575.80 136.84 L576.30 136.92 L576.80 137.27 L577.30 137.71 L577.80 137.60 L578.30 138.23 L578.80 138.62 L579.30 139.07 L579.80 139.15 L580.30 139.42 L580.80 139.76 L581.30 139.78 L581.80 140.10 L582.30 140.43 L582.80 140.61 L583.30 140.51 L583.80 140.86 L584.30 140.64 L584.80 141.45 L585.30 141.31 L585.80 141.61 L586.30 141.43 L586.80 141.75 L587.30 141.94 L587.80 142.10 L588.30 141.60 L588.80 142.08 L589.30 141.86 L589.80 141.73 L590.30 142.00 L590.80 141.83 L591.30 141.83 L591.80 141.74 L592.30 141.95 L592.80 141.90 L593.30 141.86 L593.80 141.69 L594.30 141.78 L594.80 141.98 L595.30 142.18 L595.80 141.86 L596.30 142.11 L596.80 141.69 L597.30 141.31 L597.80 141.54 L598.30 141.02 L598.80 141.15 L599.30 141.13 L599.80 140.63 L600.30 140.46 L600.80 140.77 L601.30 140.01 L601.80 139.70 L602.30 139.43 L602.80 138.81 L603.30 138.37 L603.80 138.04 L604.30 137.03 L604.80 137.49 L605.30 136.57 L605.80 136.18 L606.30 136.10 L606.80 135.50 L607.30 134.62 L607.80 134.26 L608.30 133.23 L608.80 132.57 L609.30 131.67 L609.80 131.12 L610.30 130.69 L610.80 129.93 L611.30 129.24 L611.80 128.60 L612.30 127.53 L612.80 126.47 L613.30 125.59 L613.80 125.07 L614.30 123.83 L614.80 123.11 L615.30 122.33 L615.80 121.71 L616.30 120.96 L616.80 119.96 L617.30 118.96 L617.80 117.86 L618.30 116.94 L618.80 116.40 L619.30 115.68 L619.80 114.95 L620.30 114.05 L620.80 113.23 L621.30 113.04 L621.80 112.57 L622.30 111.67 L622.80 111.81 L623.30 111.46 L623.80 111.48 L624.30 110.67 L624.80 110.47 L625.30 110.78 L625.80 110.13 L626.30 110.34 L626.80 110.32 L627.30 110.48 L627.80 110.47 L628.30 111.03 L628.80 111.49 L629.30 111.57 L629.80 111.80 L630.30 111.87 L630.80 112.56 L631.30 112.68 L631.80 113.21 L632.30 113.13 L632.80 114.10 L633.30 114.36 L633.80 115.27 L634.30 115.85 L634.80 116.21 L635.30 117.18 L635.80 118.08 L636.30 118.61 L636.80 119.29 L637.30 119.63 L637.80 120.32 L638.30 120.89 L638.80 121.83 L639.30 122.74 L639.80 123.26 L640.30 123.85 L640.80 124.29 L641.30 125.30 L641.80 125.81 L642.30 126.09 L642.80 126.77 L643.30 127.71 L643.80 128.20 L644.30 129.37 L644.80 129.63 L645.30 129.99 L645.80 130.67 L646.30 131.65 L646.80 131.58 L647.30 132.42 L647.80 132.79 L648.30 133.44 L648.80 133.64 L649.30 133.81 L649.80 134.38 L650.30 134.64 L650.80 135.18 L651.30 135.27 L651.80 136.02 L652.30 135.83 L652.80 136.19 L653.30 136.17 L653.80 136.54 L654.30 136.71 L654.80 136.93 L655.30 137.26 L655.80 137.12 L656.30 137.22 L656.80 137.81 L657.30 137.66 L657.80 137.73 L658.30 138.28 L658.80 138.33 L659.30 137.70 L659.80 138.31 L660.30 138.68 L660.80 138.80 L661.30 138.61 L661.80 139.17 L662.30 138.75 L662.80 138.96 L663.30 139.12 L663.80 139.17 L664.30 139.41 L664.80 139.51 L665.30 139.32 L665.80 139.68 L666.30 139.26 L666.80 139.40 L667.30 139.86 L667.80 139.55 L668.30 139.79 L668.80 139.49 L669.30 139.56 L669.80 139.62 L670.30 139.70 L670.80 139.61 L671.30 139.70 L671.80 139.85 L672.30 139.97" fill="none" stroke="#db5a22" stroke-width="1.0" stroke-linejoin="round" stroke-linecap="round"/>
<path d="M481.30 202.80 L481.80 202.80 L482.30 202.80 L482.80 202.80 L483.30 202.80 L483.80 202.80 L484.30 202.80 L484.80 202.80 L485.30 202.80 L485.80 202.80 L486.30 202.80 L486.80 202.80 L487.30 202.80 L487.80 202.80 L488.30 202.80 L488.80 202.80 L489.30 202.80 L489.80 202.80 L490.30 202.80 L490.80 202.80 L491.30 202.80 L491.80 202.80 L492.30 202.80 L492.80 202.80 L493.30 202.80 L493.80 202.80 L494.30 202.80 L494.80 202.80 L495.30 202.80 L495.80 202.80 L496.30 202.80 L496.80 202.79 L497.30 202.79 L497.80 202.78 L498.30 202.77 L498.80 202.76 L499.30 202.75 L499.80 202.73 L500.30 202.72 L500.80 202.70 L501.30 202.68 L501.80 202.66 L502.30 202.64 L502.80 202.62 L503.30 202.58 L503.80 202.51 L504.30 202.38 L504.80 202.23 L505.30 202.05 L505.80 201.87 L506.30 201.69 L506.80 201.51 L507.30 201.30 L507.80 201.08 L508.30 200.83 L508.80 200.55 L509.30 200.23 L509.80 199.84 L510.30 199.38 L510.80 198.85 L511.30 198.28 L511.80 197.70 L512.30 197.08 L512.80 196.41 L513.30 195.69 L513.80 194.93 L514.30 194.14 L514.80 193.27 L515.30 192.35 L515.80 191.38 L516.30 190.40 L516.80 189.39 L517.30 188.34 L517.80 187.27 L518.30 186.20 L518.80 185.12 L519.30 184.04 L519.80 182.96 L520.30 181.90 L520.80 180.87 L521.30 179.86 L521.80 178.86 L522.30 177.88 L522.80 176.93 L523.30 176.00 L523.80 175.09 L524.30 174.19 L524.80 173.30 L525.30 172.44 L525.80 171.60 L526.30 170.77 L526.80 169.91 L527.30 169.02 L527.80 168.06 L528.30 167.07 L528.80 166.07 L529.30 165.11 L529.80 164.17 L530.30 163.24 L530.80 162.32 L531.30 161.42 L531.80 160.54 L532.30 159.67 L532.80 158.82 L533.30 157.97 L533.80 157.13 L534.30 156.31 L534.80 155.51 L535.30 154.71 L535.80 153.88 L536.30 153.02 L536.80 152.11 L537.30 151.17 L537.80 150.23 L538.30 149.32 L538.80 148.43 L539.30 147.56 L539.80 146.72 L540.30 145.95 L540.80 145.24 L541.30 144.57 L541.80 143.92 L542.30 143.30 L542.80 142.68 L543.30 142.06 L543.80 141.50 L544.30 141.01 L544.80 140.56 L545.30 140.14 L545.80 139.79 L546.30 139.56 L546.80 139.38 L547.30 139.23 L547.80 139.13 L548.30 139.10 L548.80 139.17 L549.30 139.31 L549.80 139.50 L550.30 139.70 L550.80 139.94 L551.30 140.25 L551.80 140.64 L552.30 141.10 L552.80 141.73 L553.30 142.56 L553.80 143.50 L554.30 144.58 L554.80 145.83 L555.30 147.10 L555.80 148.37 L556.30 149.67 L556.80 151.00 L557.30 152.39 L557.80 153.82 L558.30 155.20 L558.80 156.50 L559.30 157.77 L559.80 159.04 L560.30 160.38 L560.80 161.76 L561.30 163.06 L561.80 164.21 L562.30 165.28 L562.80 166.30 L563.30 167.30 L563.80 168.29 L564.30 169.27 L564.80 170.21 L565.30 171.12 L565.80 171.99 L566.30 172.82 L566.80 173.63 L567.30 174.44 L567.80 175.25 L568.30 176.04 L568.80 176.84 L569.30 177.64 L569.80 178.45 L570.30 179.27 L570.80 180.08 L571.30 180.89 L571.80 181.67 L572.30 182.44 L572.80 183.19 L573.30 183.92 L573.80 184.62 L574.30 185.31 L574.80 185.97 L575.30 186.58 L575.80 187.11 L576.30 187.61 L576.80 188.06 L577.30 188.46 L577.80 188.80 L578.30 189.12 L578.80 189.41 L579.30 189.68 L579.80 189.91 L580.30 190.12 L580.80 190.32 L581.30 190.51 L581.80 190.68 L582.30 190.83 L582.80 190.96 L583.30 191.06 L583.80 191.17 L584.30 191.27 L584.80 191.36 L585.30 191.43 L585.80 191.48 L586.30 191.50 L586.80 191.50 L587.30 191.50 L587.80 191.50 L588.30 191.50 L588.80 191.50 L589.30 191.50 L589.80 191.49 L590.30 191.43 L590.80 191.32 L591.30 191.16 L591.80 190.97 L592.30 190.78 L592.80 190.58 L593.30 190.38 L593.80 190.15 L594.30 189.89 L594.80 189.61 L595.30 189.33 L595.80 189.05 L596.30 188.80 L596.80 188.57 L597.30 188.34 L597.80 188.12 L598.30 187.90 L598.80 187.68 L599.30 187.45 L599.80 187.20 L600.30 186.96 L600.80 186.73 L601.30 186.48 L601.80 186.21 L602.30 185.91 L602.80 185.57 L603.30 185.16 L603.80 184.65 L604.30 184.05 L604.80 183.40 L605.30 182.72 L605.80 182.04 L606.30 181.37 L606.80 180.68 L607.30 179.97 L607.80 179.23 L608.30 178.49 L608.80 177.75 L609.30 177.02 L609.80 176.32 L610.30 175.63 L610.80 174.95 L611.30 174.28 L611.80 173.61 L612.30 172.94 L612.80 172.27 L613.30 171.59 L613.80 170.88 L614.30 170.16 L614.80 169.45 L615.30 168.77 L615.80 168.14 L616.30 167.60 L616.80 167.10 L617.30 166.64 L617.80 166.21 L618.30 165.81 L618.80 165.44 L619.30 165.10 L619.80 164.77 L620.30 164.47 L620.80 164.19 L621.30 163.93 L621.80 163.70 L622.30 163.49 L622.80 163.29 L623.30 163.14 L623.80 163.05 L624.30 162.96 L624.80 162.91 L625.30 162.90 L625.80 162.96 L626.30 163.05 L626.80 163.17 L627.30 163.30 L627.80 163.47 L628.30 163.70 L628.80 163.97 L629.30 164.28 L629.80 164.60 L630.30 164.97 L630.80 165.39 L631.30 165.84 L631.80 166.32 L632.30 166.81 L632.80 167.30 L633.30 167.81 L633.80 168.34 L634.30 168.90 L634.80 169.47 L635.30 170.06 L635.80 170.64 L636.30 171.22 L636.80 171.80 L637.30 172.39 L637.80 172.98 L638.30 173.58 L638.80 174.18 L639.30 174.77 L639.80 175.35 L640.30 175.94 L640.80 176.53 L641.30 177.11 L641.80 177.69 L642.30 178.25 L642.80 178.80 L643.30 179.34 L643.80 179.87 L644.30 180.39 L644.80 180.91 L645.30 181.41 L645.80 181.90 L646.30 182.37 L646.80 182.82 L647.30 183.26 L647.80 183.70 L648.30 184.13 L648.80 184.55 L649.30 184.97 L649.80 185.36 L650.30 185.73 L650.80 186.07 L651.30 186.38 L651.80 186.65 L652.30 186.90 L652.80 187.13 L653.30 187.34 L653.80 187.54 L654.30 187.73 L654.80 187.91 L655.30 188.07 L655.80 188.24 L656.30 188.39 L656.80 188.54 L657.30 188.68 L657.80 188.81 L658.30 188.94 L658.80 189.06 L659.30 189.18 L659.80 189.30 L660.30 189.43 L660.80 189.55 L661.30 189.68 L661.80 189.81 L662.30 189.94 L662.80 190.07 L663.30 190.20 L663.80 190.32 L664.30 190.45 L664.80 190.56 L665.30 190.67 L665.80 190.76 L666.30 190.85 L666.80 190.94 L667.30 191.02 L667.80 191.11 L668.30 191.19 L668.80 191.26 L669.30 191.33 L669.80 191.40 L670.30 191.47 L670.80 191.53 L671.30 191.59 L671.80 191.64 L672.30 191.68" fill="none" stroke="#0f7cc4" stroke-width="1.0" stroke-linejoin="round" stroke-linecap="round"/>
</g>
<g filter="url(#tf)">
<text x="97.6" y="11.7" font-size="11.6" textLength="27.20" lengthAdjust="spacingAndGlyphs" fill="#262626" stroke="#262626" stroke-width="0.2">MnO</text>
<text x="11.0" y="35.0" font-size="10.6" textLength="5.40" lengthAdjust="spacingAndGlyphs" fill="#333333" stroke="#333333" stroke-width="0.08">4</text>
<text x="11.0" y="78.5" font-size="10.6" textLength="5.40" lengthAdjust="spacingAndGlyphs" fill="#333333" stroke="#333333" stroke-width="0.08">3</text>
<text x="11.0" y="122.0" font-size="10.6" textLength="5.40" lengthAdjust="spacingAndGlyphs" fill="#333333" stroke="#333333" stroke-width="0.08">2</text>
<text x="11.0" y="165.5" font-size="10.6" textLength="5.40" lengthAdjust="spacingAndGlyphs" fill="#333333" stroke="#333333" stroke-width="0.08">1</text>
<text x="11.0" y="209.0" font-size="10.6" textLength="5.40" lengthAdjust="spacingAndGlyphs" fill="#333333" stroke="#333333" stroke-width="0.08">0</text>
<text x="5.8" y="56.1" font-size="11.9" textLength="43.40" lengthAdjust="spacingAndGlyphs" fill="#262626" stroke="#262626" stroke-width="0.28">XAS TEY</text>
<text x="6.0" y="97.8" font-size="11.9" textLength="42.40" lengthAdjust="spacingAndGlyphs" fill="#262626" stroke="#262626" stroke-width="0.28">XAS PFY</text>
<text x="6.6" y="131.3" font-size="11.9" textLength="43.60" lengthAdjust="spacingAndGlyphs" fill="#262626" stroke="#262626" stroke-width="0.28">XAS TEY</text>
<text x="24.8" y="157.8" font-size="11.9" textLength="24.70" lengthAdjust="spacingAndGlyphs" fill="#262626" stroke="#262626" stroke-width="0.28">EELS</text>
<text x="24.3" y="195.3" font-size="11.9" textLength="25.00" lengthAdjust="spacingAndGlyphs" fill="#262626" stroke="#262626" stroke-width="0.28">EELS</text>
<text x="117" y="45.8" font-size="11.9" textLength="74.00" lengthAdjust="spacingAndGlyphs" fill="#262626" stroke="#262626" stroke-width="0.28">97.85, 2.15, 0</text>
<text x="132" y="89.2" font-size="11.9" textLength="45.00" lengthAdjust="spacingAndGlyphs" fill="#262626" stroke="#262626" stroke-width="0.28">100, 0, 0</text>
<text x="117.5" y="114.6" font-size="11.9" textLength="88.50" lengthAdjust="spacingAndGlyphs" fill="#262626" stroke="#262626" stroke-width="0.28">99.17, 0.64, 0.19</text>
<text x="126.8" y="156.3" font-size="11.9" textLength="72.50" lengthAdjust="spacingAndGlyphs" fill="#262626" stroke="#262626" stroke-width="0.28">99.98, 0, 0.02</text>
<text x="129.5" y="185.3" font-size="11.9" textLength="68.50" lengthAdjust="spacingAndGlyphs" fill="#262626" stroke="#262626" stroke-width="0.28">93.4, 6.5, 0.1</text>
<text x="11.8" y="224.9" font-size="11.0" textLength="18.20" lengthAdjust="spacingAndGlyphs" fill="#333333" stroke="#333333" stroke-width="0.08">635</text>
<text x="50.099999999999994" y="224.9" font-size="11.0" textLength="18.20" lengthAdjust="spacingAndGlyphs" fill="#333333" stroke="#333333" stroke-width="0.08">640</text>
<text x="88.39999999999999" y="224.9" font-size="11.0" textLength="18.20" lengthAdjust="spacingAndGlyphs" fill="#333333" stroke="#333333" stroke-width="0.08">645</text>
<text x="126.69999999999997" y="224.9" font-size="11.0" textLength="18.20" lengthAdjust="spacingAndGlyphs" fill="#333333" stroke="#333333" stroke-width="0.08">650</text>
<text x="165.0" y="224.9" font-size="11.0" textLength="18.20" lengthAdjust="spacingAndGlyphs" fill="#333333" stroke="#333333" stroke-width="0.08">655</text>
<text x="203.3" y="224.9" font-size="11.0" textLength="18.20" lengthAdjust="spacingAndGlyphs" fill="#333333" stroke="#333333" stroke-width="0.08">660</text>
<text x="39" y="244.3" font-size="11.9" textLength="170.50" lengthAdjust="spacingAndGlyphs" fill="#262626" stroke="#262626" stroke-width="0.28">Energy loss/Photon Energy (eV)</text>
<text x="332.6" y="11.6" font-size="11.5" textLength="40.70" lengthAdjust="spacingAndGlyphs" fill="#262626" stroke="#262626" stroke-width="0.2">Mn2O3</text>
<text x="234.4" y="48.4" font-size="10.8" textLength="15.50" lengthAdjust="spacingAndGlyphs" fill="#333333" stroke="#333333" stroke-width="0.08">2.5</text>
<text x="244.0" y="79.60000000000001" font-size="10.8" textLength="5.90" lengthAdjust="spacingAndGlyphs" fill="#333333" stroke="#333333" stroke-width="0.08">2</text>
<text x="234.4" y="111.80000000000001" font-size="10.8" textLength="15.50" lengthAdjust="spacingAndGlyphs" fill="#333333" stroke="#333333" stroke-width="0.08">1.5</text>
<text x="244.0" y="143.5" font-size="10.8" textLength="5.90" lengthAdjust="spacingAndGlyphs" fill="#333333" stroke="#333333" stroke-width="0.08">1</text>
<text x="234.4" y="175.20000000000002" font-size="10.8" textLength="15.50" lengthAdjust="spacingAndGlyphs" fill="#333333" stroke="#333333" stroke-width="0.08">0.5</text>
<text x="244.0" y="206.9" font-size="10.8" textLength="5.90" lengthAdjust="spacingAndGlyphs" fill="#333333" stroke="#333333" stroke-width="0.08">0</text>
<text x="232.8" y="93.1" font-size="11.9" textLength="43.50" lengthAdjust="spacingAndGlyphs" fill="#262626" stroke="#262626" stroke-width="0.28">XAS TEY</text>
<text x="260.4" y="143.7" font-size="11.9" textLength="24.30" lengthAdjust="spacingAndGlyphs" fill="#262626" stroke="#262626" stroke-width="0.28">EELS</text>
<text x="264.7" y="186.1" font-size="11.9" textLength="24.30" lengthAdjust="spacingAndGlyphs" fill="#262626" stroke="#262626" stroke-width="0.28">EELS</text>
<text x="347.2" y="56.6" font-size="11.9" textLength="90.00" lengthAdjust="spacingAndGlyphs" fill="#262626" stroke="#262626" stroke-width="0.28">0.37, 97.76, 1.87</text>
<text x="348.8" y="111.9" font-size="11.9" textLength="83.50" lengthAdjust="spacingAndGlyphs" fill="#262626" stroke="#262626" stroke-width="0.28">0.9, 96.95, 2.15</text>
<text x="351.8" y="162.8" font-size="11.9" textLength="90.40" lengthAdjust="spacingAndGlyphs" fill="#262626" stroke="#262626" stroke-width="0.28">0.37, 97.76, 1.87</text>
<text x="244.3" y="224.9" font-size="11.0" textLength="18.20" lengthAdjust="spacingAndGlyphs" fill="#333333" stroke="#333333" stroke-width="0.08">635</text>
<text x="282.5" y="224.9" font-size="11.0" textLength="18.20" lengthAdjust="spacingAndGlyphs" fill="#333333" stroke="#333333" stroke-width="0.08">640</text>
<text x="320.7" y="224.9" font-size="11.0" textLength="18.20" lengthAdjust="spacingAndGlyphs" fill="#333333" stroke="#333333" stroke-width="0.08">645</text>
<text x="358.90000000000003" y="224.9" font-size="11.0" textLength="18.20" lengthAdjust="spacingAndGlyphs" fill="#333333" stroke="#333333" stroke-width="0.08">650</text>
<text x="397.1" y="224.9" font-size="11.0" textLength="18.20" lengthAdjust="spacingAndGlyphs" fill="#333333" stroke="#333333" stroke-width="0.08">655</text>
<text x="435.3" y="224.9" font-size="11.0" textLength="18.20" lengthAdjust="spacingAndGlyphs" fill="#333333" stroke="#333333" stroke-width="0.08">660</text>
<text x="267" y="244.3" font-size="11.9" textLength="169.00" lengthAdjust="spacingAndGlyphs" fill="#262626" stroke="#262626" stroke-width="0.28">Energy loss/Photon Energy (eV)</text>
<text x="559.5" y="11.4" font-size="11.5" textLength="34.00" lengthAdjust="spacingAndGlyphs" fill="#262626" stroke="#262626" stroke-width="0.2">MnO2</text>
<text x="461.8" y="48.4" font-size="10.8" textLength="15.50" lengthAdjust="spacingAndGlyphs" fill="#333333" stroke="#333333" stroke-width="0.08">2.5</text>
<text x="471.40000000000003" y="79.60000000000001" font-size="10.8" textLength="5.90" lengthAdjust="spacingAndGlyphs" fill="#333333" stroke="#333333" stroke-width="0.08">2</text>
<text x="461.8" y="111.80000000000001" font-size="10.8" textLength="15.50" lengthAdjust="spacingAndGlyphs" fill="#333333" stroke="#333333" stroke-width="0.08">1.5</text>
<text x="471.40000000000003" y="143.5" font-size="10.8" textLength="5.90" lengthAdjust="spacingAndGlyphs" fill="#333333" stroke="#333333" stroke-width="0.08">1</text>
<text x="461.8" y="175.20000000000002" font-size="10.8" textLength="15.50" lengthAdjust="spacingAndGlyphs" fill="#333333" stroke="#333333" stroke-width="0.08">0.5</text>
<text x="471.40000000000003" y="206.9" font-size="10.8" textLength="5.90" lengthAdjust="spacingAndGlyphs" fill="#333333" stroke="#333333" stroke-width="0.08">0</text>
<text x="461.3" y="93.9" font-size="11.9" textLength="43.00" lengthAdjust="spacingAndGlyphs" fill="#262626" stroke="#262626" stroke-width="0.28">XAS TEY</text>
<text x="487" y="144.7" font-size="11.9" textLength="24.00" lengthAdjust="spacingAndGlyphs" fill="#262626" stroke="#262626" stroke-width="0.28">EELS</text>
<text x="487.4" y="185.6" font-size="11.9" textLength="24.20" lengthAdjust="spacingAndGlyphs" fill="#262626" stroke="#262626" stroke-width="0.28">EELS</text>
<text x="575.5" y="50.8" font-size="11.9" textLength="90.00" lengthAdjust="spacingAndGlyphs" fill="#262626" stroke="#262626" stroke-width="0.28">0.22, 0.05, 99.73</text>
<text x="587" y="107" font-size="11.9" textLength="70.50" lengthAdjust="spacingAndGlyphs" fill="#262626" stroke="#262626" stroke-width="0.28">0.1, 0.0, 99.9</text>
<text x="582.5" y="158.2" font-size="11.9" textLength="83.50" lengthAdjust="spacingAndGlyphs" fill="#262626" stroke="#262626" stroke-width="0.28">3.7, 1.53, 94.77</text>
<text x="472.1" y="224.9" font-size="11.0" textLength="18.20" lengthAdjust="spacingAndGlyphs" fill="#333333" stroke="#333333" stroke-width="0.08">635</text>
<text x="510.34999999999997" y="224.9" font-size="11.0" textLength="18.20" lengthAdjust="spacingAndGlyphs" fill="#333333" stroke="#333333" stroke-width="0.08">640</text>
<text x="548.5999999999999" y="224.9" font-size="11.0" textLength="18.20" lengthAdjust="spacingAndGlyphs" fill="#333333" stroke="#333333" stroke-width="0.08">645</text>
<text x="586.8499999999999" y="224.9" font-size="11.0" textLength="18.20" lengthAdjust="spacingAndGlyphs" fill="#333333" stroke="#333333" stroke-width="0.08">650</text>
<text x="625.0999999999999" y="224.9" font-size="11.0" textLength="18.20" lengthAdjust="spacingAndGlyphs" fill="#333333" stroke="#333333" stroke-width="0.08">655</text>
<text x="663.3499999999999" y="224.9" font-size="11.0" textLength="18.20" lengthAdjust="spacingAndGlyphs" fill="#333333" stroke="#333333" stroke-width="0.08">660</text>
<text x="500.5" y="244.1" font-size="11.9" textLength="169.10" lengthAdjust="spacingAndGlyphs" fill="#262626" stroke="#262626" stroke-width="0.28">Energy loss/Photon Energy (eV)</text>
</g>
</svg>
</body></html>
